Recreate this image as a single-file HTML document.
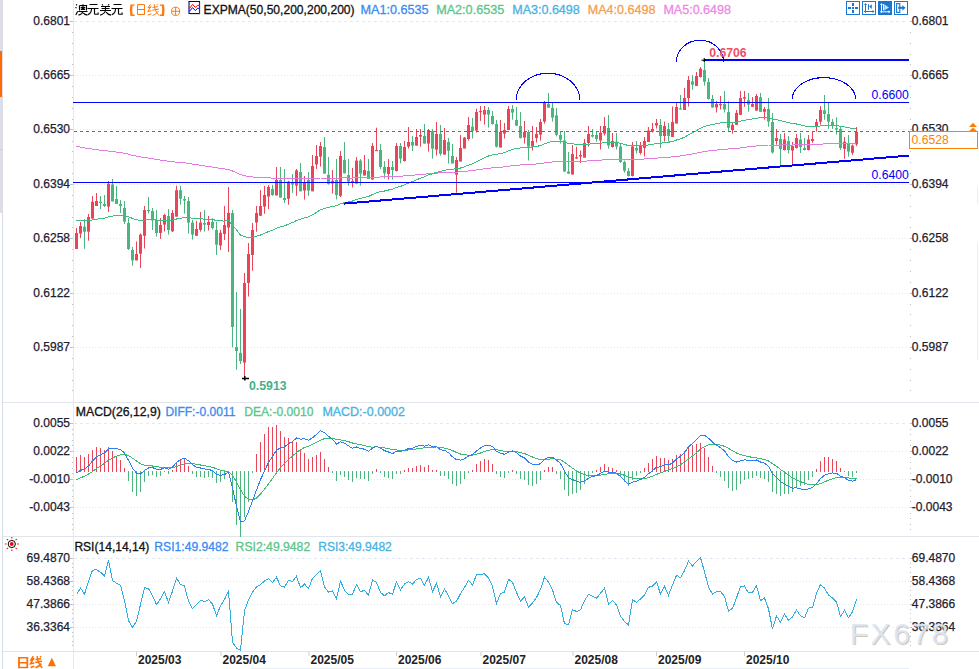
<!DOCTYPE html>
<html><head><meta charset="utf-8"><title>chart</title>
<style>html,body{margin:0;padding:0;background:#fff;overflow:hidden}svg{display:block}</style>
</head><body>
<svg width="979" height="669" viewBox="0 0 979 669">
<rect x="0" y="0" width="979" height="669" fill="#fff"/>
<rect x="0" y="0" width="3" height="213" fill="#dcdde6"/>
<rect x="0" y="149" width="3" height="1" fill="#cdcfd9"/>
<rect x="0" y="51" width="2" height="46" fill="#ff6a00"/>
<rect x="2" y="213" width="1" height="456" fill="#d6dde6"/>
<rect x="73" y="0" width="1" height="669" fill="#e4e9ef"/>
<rect x="3" y="402" width="976" height="1" fill="#dfe5eb"/>
<rect x="3" y="536" width="976" height="1" fill="#dfe5eb"/>
<rect x="3" y="651" width="976" height="1" fill="#dfe5eb"/>
<rect x="251" y="668" width="658" height="1" fill="#e8eef3"/>
<rect x="977" y="187" width="1" height="17" fill="#e9eef3"/>
<rect x="977" y="243" width="1" height="117" fill="#e9eef3"/>
<line x1="74" y1="21.5" x2="909" y2="21.5" stroke="#e3e9f0" stroke-width="1" stroke-dasharray="3 3"/>
<line x1="74" y1="75.5" x2="909" y2="75.5" stroke="#e3e9f0" stroke-width="1" stroke-dasharray="1 2"/>
<line x1="74" y1="129.5" x2="909" y2="129.5" stroke="#e3e9f0" stroke-width="1" stroke-dasharray="1 2"/>
<line x1="74" y1="184.5" x2="909" y2="184.5" stroke="#e3e9f0" stroke-width="1" stroke-dasharray="1 2"/>
<line x1="74" y1="238.5" x2="909" y2="238.5" stroke="#e3e9f0" stroke-width="1" stroke-dasharray="1 2"/>
<line x1="74" y1="293.5" x2="909" y2="293.5" stroke="#e3e9f0" stroke-width="1" stroke-dasharray="1 2"/>
<line x1="74" y1="347.5" x2="909" y2="347.5" stroke="#e3e9f0" stroke-width="1" stroke-dasharray="1 2"/>
<line x1="74" y1="423.5" x2="909" y2="423.5" stroke="#e3e9f0" stroke-width="1" stroke-dasharray="3 3"/>
<line x1="74" y1="451.5" x2="909" y2="451.5" stroke="#e3e9f0" stroke-width="1" stroke-dasharray="1 2"/>
<line x1="74" y1="479.5" x2="909" y2="479.5" stroke="#e3e9f0" stroke-width="1" stroke-dasharray="1 2"/>
<line x1="74" y1="507.5" x2="909" y2="507.5" stroke="#e3e9f0" stroke-width="1" stroke-dasharray="1 2"/>
<line x1="74" y1="558.5" x2="909" y2="558.5" stroke="#e3e9f0" stroke-width="1" stroke-dasharray="3 3"/>
<line x1="74" y1="581.5" x2="909" y2="581.5" stroke="#e3e9f0" stroke-width="1" stroke-dasharray="1 2"/>
<line x1="74" y1="604.5" x2="909" y2="604.5" stroke="#e3e9f0" stroke-width="1" stroke-dasharray="1 2"/>
<line x1="74" y1="627.5" x2="909" y2="627.5" stroke="#e3e9f0" stroke-width="1" stroke-dasharray="1 2"/>
<rect x="70" y="21" width="3" height="1" fill="#b8c0ca"/>
<rect x="910" y="21" width="2" height="1" fill="#b8c0ca"/>
<rect x="70" y="75" width="3" height="1" fill="#b8c0ca"/>
<rect x="910" y="75" width="2" height="1" fill="#b8c0ca"/>
<rect x="70" y="129" width="3" height="1" fill="#b8c0ca"/>
<rect x="910" y="129" width="2" height="1" fill="#b8c0ca"/>
<rect x="70" y="184" width="3" height="1" fill="#b8c0ca"/>
<rect x="910" y="184" width="2" height="1" fill="#b8c0ca"/>
<rect x="70" y="238" width="3" height="1" fill="#b8c0ca"/>
<rect x="910" y="238" width="2" height="1" fill="#b8c0ca"/>
<rect x="70" y="293" width="3" height="1" fill="#b8c0ca"/>
<rect x="910" y="293" width="2" height="1" fill="#b8c0ca"/>
<rect x="70" y="347" width="3" height="1" fill="#b8c0ca"/>
<rect x="910" y="347" width="2" height="1" fill="#b8c0ca"/>
<rect x="72" y="32" width="1" height="1" fill="#b8c0ca"/>
<rect x="910" y="32" width="1" height="1" fill="#b8c0ca"/>
<rect x="72" y="43" width="1" height="1" fill="#b8c0ca"/>
<rect x="910" y="43" width="1" height="1" fill="#b8c0ca"/>
<rect x="72" y="54" width="1" height="1" fill="#b8c0ca"/>
<rect x="910" y="54" width="1" height="1" fill="#b8c0ca"/>
<rect x="72" y="64" width="1" height="1" fill="#b8c0ca"/>
<rect x="910" y="64" width="1" height="1" fill="#b8c0ca"/>
<rect x="72" y="86" width="1" height="1" fill="#b8c0ca"/>
<rect x="910" y="86" width="1" height="1" fill="#b8c0ca"/>
<rect x="72" y="97" width="1" height="1" fill="#b8c0ca"/>
<rect x="910" y="97" width="1" height="1" fill="#b8c0ca"/>
<rect x="72" y="108" width="1" height="1" fill="#b8c0ca"/>
<rect x="910" y="108" width="1" height="1" fill="#b8c0ca"/>
<rect x="72" y="119" width="1" height="1" fill="#b8c0ca"/>
<rect x="910" y="119" width="1" height="1" fill="#b8c0ca"/>
<rect x="72" y="141" width="1" height="1" fill="#b8c0ca"/>
<rect x="910" y="141" width="1" height="1" fill="#b8c0ca"/>
<rect x="72" y="151" width="1" height="1" fill="#b8c0ca"/>
<rect x="910" y="151" width="1" height="1" fill="#b8c0ca"/>
<rect x="72" y="162" width="1" height="1" fill="#b8c0ca"/>
<rect x="910" y="162" width="1" height="1" fill="#b8c0ca"/>
<rect x="72" y="173" width="1" height="1" fill="#b8c0ca"/>
<rect x="910" y="173" width="1" height="1" fill="#b8c0ca"/>
<rect x="72" y="195" width="1" height="1" fill="#b8c0ca"/>
<rect x="910" y="195" width="1" height="1" fill="#b8c0ca"/>
<rect x="72" y="206" width="1" height="1" fill="#b8c0ca"/>
<rect x="910" y="206" width="1" height="1" fill="#b8c0ca"/>
<rect x="72" y="217" width="1" height="1" fill="#b8c0ca"/>
<rect x="910" y="217" width="1" height="1" fill="#b8c0ca"/>
<rect x="72" y="227" width="1" height="1" fill="#b8c0ca"/>
<rect x="910" y="227" width="1" height="1" fill="#b8c0ca"/>
<rect x="72" y="249" width="1" height="1" fill="#b8c0ca"/>
<rect x="910" y="249" width="1" height="1" fill="#b8c0ca"/>
<rect x="72" y="260" width="1" height="1" fill="#b8c0ca"/>
<rect x="910" y="260" width="1" height="1" fill="#b8c0ca"/>
<rect x="72" y="271" width="1" height="1" fill="#b8c0ca"/>
<rect x="910" y="271" width="1" height="1" fill="#b8c0ca"/>
<rect x="72" y="282" width="1" height="1" fill="#b8c0ca"/>
<rect x="910" y="282" width="1" height="1" fill="#b8c0ca"/>
<rect x="72" y="304" width="1" height="1" fill="#b8c0ca"/>
<rect x="910" y="304" width="1" height="1" fill="#b8c0ca"/>
<rect x="72" y="314" width="1" height="1" fill="#b8c0ca"/>
<rect x="910" y="314" width="1" height="1" fill="#b8c0ca"/>
<rect x="72" y="325" width="1" height="1" fill="#b8c0ca"/>
<rect x="910" y="325" width="1" height="1" fill="#b8c0ca"/>
<rect x="72" y="336" width="1" height="1" fill="#b8c0ca"/>
<rect x="910" y="336" width="1" height="1" fill="#b8c0ca"/>
<rect x="72" y="358" width="1" height="1" fill="#b8c0ca"/>
<rect x="910" y="358" width="1" height="1" fill="#b8c0ca"/>
<rect x="72" y="369" width="1" height="1" fill="#b8c0ca"/>
<rect x="910" y="369" width="1" height="1" fill="#b8c0ca"/>
<rect x="72" y="380" width="1" height="1" fill="#b8c0ca"/>
<rect x="910" y="380" width="1" height="1" fill="#b8c0ca"/>
<rect x="72" y="390" width="1" height="1" fill="#b8c0ca"/>
<rect x="910" y="390" width="1" height="1" fill="#b8c0ca"/>
<rect x="70" y="423" width="3" height="1" fill="#b8c0ca"/>
<rect x="910" y="423" width="2" height="1" fill="#b8c0ca"/>
<rect x="70" y="451" width="3" height="1" fill="#b8c0ca"/>
<rect x="910" y="451" width="2" height="1" fill="#b8c0ca"/>
<rect x="70" y="479" width="3" height="1" fill="#b8c0ca"/>
<rect x="910" y="479" width="2" height="1" fill="#b8c0ca"/>
<rect x="70" y="507" width="3" height="1" fill="#b8c0ca"/>
<rect x="910" y="507" width="2" height="1" fill="#b8c0ca"/>
<rect x="72" y="429" width="1" height="1" fill="#b8c0ca"/>
<rect x="910" y="429" width="1" height="1" fill="#b8c0ca"/>
<rect x="72" y="434" width="1" height="1" fill="#b8c0ca"/>
<rect x="910" y="434" width="1" height="1" fill="#b8c0ca"/>
<rect x="72" y="440" width="1" height="1" fill="#b8c0ca"/>
<rect x="910" y="440" width="1" height="1" fill="#b8c0ca"/>
<rect x="72" y="445" width="1" height="1" fill="#b8c0ca"/>
<rect x="910" y="445" width="1" height="1" fill="#b8c0ca"/>
<rect x="72" y="457" width="1" height="1" fill="#b8c0ca"/>
<rect x="910" y="457" width="1" height="1" fill="#b8c0ca"/>
<rect x="72" y="462" width="1" height="1" fill="#b8c0ca"/>
<rect x="910" y="462" width="1" height="1" fill="#b8c0ca"/>
<rect x="72" y="468" width="1" height="1" fill="#b8c0ca"/>
<rect x="910" y="468" width="1" height="1" fill="#b8c0ca"/>
<rect x="72" y="473" width="1" height="1" fill="#b8c0ca"/>
<rect x="910" y="473" width="1" height="1" fill="#b8c0ca"/>
<rect x="72" y="485" width="1" height="1" fill="#b8c0ca"/>
<rect x="910" y="485" width="1" height="1" fill="#b8c0ca"/>
<rect x="72" y="490" width="1" height="1" fill="#b8c0ca"/>
<rect x="910" y="490" width="1" height="1" fill="#b8c0ca"/>
<rect x="72" y="496" width="1" height="1" fill="#b8c0ca"/>
<rect x="910" y="496" width="1" height="1" fill="#b8c0ca"/>
<rect x="72" y="501" width="1" height="1" fill="#b8c0ca"/>
<rect x="910" y="501" width="1" height="1" fill="#b8c0ca"/>
<rect x="72" y="513" width="1" height="1" fill="#b8c0ca"/>
<rect x="910" y="513" width="1" height="1" fill="#b8c0ca"/>
<rect x="72" y="518" width="1" height="1" fill="#b8c0ca"/>
<rect x="910" y="518" width="1" height="1" fill="#b8c0ca"/>
<rect x="72" y="524" width="1" height="1" fill="#b8c0ca"/>
<rect x="910" y="524" width="1" height="1" fill="#b8c0ca"/>
<rect x="72" y="529" width="1" height="1" fill="#b8c0ca"/>
<rect x="910" y="529" width="1" height="1" fill="#b8c0ca"/>
<rect x="70" y="558" width="3" height="1" fill="#b8c0ca"/>
<rect x="910" y="558" width="2" height="1" fill="#b8c0ca"/>
<rect x="70" y="581" width="3" height="1" fill="#b8c0ca"/>
<rect x="910" y="581" width="2" height="1" fill="#b8c0ca"/>
<rect x="70" y="604" width="3" height="1" fill="#b8c0ca"/>
<rect x="910" y="604" width="2" height="1" fill="#b8c0ca"/>
<rect x="70" y="627" width="3" height="1" fill="#b8c0ca"/>
<rect x="910" y="627" width="2" height="1" fill="#b8c0ca"/>
<rect x="72" y="563" width="1" height="1" fill="#b8c0ca"/>
<rect x="910" y="563" width="1" height="1" fill="#b8c0ca"/>
<rect x="72" y="567" width="1" height="1" fill="#b8c0ca"/>
<rect x="910" y="567" width="1" height="1" fill="#b8c0ca"/>
<rect x="72" y="572" width="1" height="1" fill="#b8c0ca"/>
<rect x="910" y="572" width="1" height="1" fill="#b8c0ca"/>
<rect x="72" y="576" width="1" height="1" fill="#b8c0ca"/>
<rect x="910" y="576" width="1" height="1" fill="#b8c0ca"/>
<rect x="72" y="586" width="1" height="1" fill="#b8c0ca"/>
<rect x="910" y="586" width="1" height="1" fill="#b8c0ca"/>
<rect x="72" y="590" width="1" height="1" fill="#b8c0ca"/>
<rect x="910" y="590" width="1" height="1" fill="#b8c0ca"/>
<rect x="72" y="595" width="1" height="1" fill="#b8c0ca"/>
<rect x="910" y="595" width="1" height="1" fill="#b8c0ca"/>
<rect x="72" y="599" width="1" height="1" fill="#b8c0ca"/>
<rect x="910" y="599" width="1" height="1" fill="#b8c0ca"/>
<rect x="72" y="609" width="1" height="1" fill="#b8c0ca"/>
<rect x="910" y="609" width="1" height="1" fill="#b8c0ca"/>
<rect x="72" y="613" width="1" height="1" fill="#b8c0ca"/>
<rect x="910" y="613" width="1" height="1" fill="#b8c0ca"/>
<rect x="72" y="618" width="1" height="1" fill="#b8c0ca"/>
<rect x="910" y="618" width="1" height="1" fill="#b8c0ca"/>
<rect x="72" y="622" width="1" height="1" fill="#b8c0ca"/>
<rect x="910" y="622" width="1" height="1" fill="#b8c0ca"/>
<rect x="72" y="632" width="1" height="1" fill="#b8c0ca"/>
<rect x="910" y="632" width="1" height="1" fill="#b8c0ca"/>
<rect x="72" y="636" width="1" height="1" fill="#b8c0ca"/>
<rect x="910" y="636" width="1" height="1" fill="#b8c0ca"/>
<rect x="72" y="641" width="1" height="1" fill="#b8c0ca"/>
<rect x="910" y="641" width="1" height="1" fill="#b8c0ca"/>
<rect x="72" y="645" width="1" height="1" fill="#b8c0ca"/>
<rect x="910" y="645" width="1" height="1" fill="#b8c0ca"/>
<text x="70" y="25.2" font-family="Liberation Sans, sans-serif" font-size="12" fill="#1e2030" text-anchor="end" font-weight="normal" stroke="#1e2030" stroke-width="0.25">0.6801</text>
<text x="911.8" y="25.2" font-family="Liberation Sans, sans-serif" font-size="12" fill="#1e2030" text-anchor="start" font-weight="normal" stroke="#1e2030" stroke-width="0.25">0.6801</text>
<text x="70" y="79.2" font-family="Liberation Sans, sans-serif" font-size="12" fill="#1e2030" text-anchor="end" font-weight="normal" stroke="#1e2030" stroke-width="0.25">0.6665</text>
<text x="911.8" y="79.2" font-family="Liberation Sans, sans-serif" font-size="12" fill="#1e2030" text-anchor="start" font-weight="normal" stroke="#1e2030" stroke-width="0.25">0.6665</text>
<text x="70" y="133.2" font-family="Liberation Sans, sans-serif" font-size="12" fill="#1e2030" text-anchor="end" font-weight="normal" stroke="#1e2030" stroke-width="0.25">0.6530</text>
<text x="911.8" y="133.2" font-family="Liberation Sans, sans-serif" font-size="12" fill="#1e2030" text-anchor="start" font-weight="normal" stroke="#1e2030" stroke-width="0.25">0.6530</text>
<text x="70" y="188.2" font-family="Liberation Sans, sans-serif" font-size="12" fill="#1e2030" text-anchor="end" font-weight="normal" stroke="#1e2030" stroke-width="0.25">0.6394</text>
<text x="911.8" y="188.2" font-family="Liberation Sans, sans-serif" font-size="12" fill="#1e2030" text-anchor="start" font-weight="normal" stroke="#1e2030" stroke-width="0.25">0.6394</text>
<text x="70" y="242.2" font-family="Liberation Sans, sans-serif" font-size="12" fill="#1e2030" text-anchor="end" font-weight="normal" stroke="#1e2030" stroke-width="0.25">0.6258</text>
<text x="911.8" y="242.2" font-family="Liberation Sans, sans-serif" font-size="12" fill="#1e2030" text-anchor="start" font-weight="normal" stroke="#1e2030" stroke-width="0.25">0.6258</text>
<text x="70" y="297.2" font-family="Liberation Sans, sans-serif" font-size="12" fill="#1e2030" text-anchor="end" font-weight="normal" stroke="#1e2030" stroke-width="0.25">0.6122</text>
<text x="911.8" y="297.2" font-family="Liberation Sans, sans-serif" font-size="12" fill="#1e2030" text-anchor="start" font-weight="normal" stroke="#1e2030" stroke-width="0.25">0.6122</text>
<text x="70" y="351.2" font-family="Liberation Sans, sans-serif" font-size="12" fill="#1e2030" text-anchor="end" font-weight="normal" stroke="#1e2030" stroke-width="0.25">0.5987</text>
<text x="911.8" y="351.2" font-family="Liberation Sans, sans-serif" font-size="12" fill="#1e2030" text-anchor="start" font-weight="normal" stroke="#1e2030" stroke-width="0.25">0.5987</text>
<text x="70" y="427.2" font-family="Liberation Sans, sans-serif" font-size="12" fill="#1e2030" text-anchor="end" font-weight="normal" stroke="#1e2030" stroke-width="0.25">0.0055</text>
<text x="911.8" y="427.2" font-family="Liberation Sans, sans-serif" font-size="12" fill="#1e2030" text-anchor="start" font-weight="normal" stroke="#1e2030" stroke-width="0.25">0.0055</text>
<text x="70" y="455.2" font-family="Liberation Sans, sans-serif" font-size="12" fill="#1e2030" text-anchor="end" font-weight="normal" stroke="#1e2030" stroke-width="0.25">0.0022</text>
<text x="911.8" y="455.2" font-family="Liberation Sans, sans-serif" font-size="12" fill="#1e2030" text-anchor="start" font-weight="normal" stroke="#1e2030" stroke-width="0.25">0.0022</text>
<text x="70" y="483.2" font-family="Liberation Sans, sans-serif" font-size="12" fill="#1e2030" text-anchor="end" font-weight="normal" stroke="#1e2030" stroke-width="0.25">-0.0010</text>
<text x="911.8" y="483.2" font-family="Liberation Sans, sans-serif" font-size="12" fill="#1e2030" text-anchor="start" font-weight="normal" stroke="#1e2030" stroke-width="0.25">-0.0010</text>
<text x="70" y="511.2" font-family="Liberation Sans, sans-serif" font-size="12" fill="#1e2030" text-anchor="end" font-weight="normal" stroke="#1e2030" stroke-width="0.25">-0.0043</text>
<text x="911.8" y="511.2" font-family="Liberation Sans, sans-serif" font-size="12" fill="#1e2030" text-anchor="start" font-weight="normal" stroke="#1e2030" stroke-width="0.25">-0.0043</text>
<text x="70" y="562.2" font-family="Liberation Sans, sans-serif" font-size="12" fill="#1e2030" text-anchor="end" font-weight="normal" stroke="#1e2030" stroke-width="0.25">69.4870</text>
<text x="911.8" y="562.2" font-family="Liberation Sans, sans-serif" font-size="12" fill="#1e2030" text-anchor="start" font-weight="normal" stroke="#1e2030" stroke-width="0.25">69.4870</text>
<text x="70" y="585.2" font-family="Liberation Sans, sans-serif" font-size="12" fill="#1e2030" text-anchor="end" font-weight="normal" stroke="#1e2030" stroke-width="0.25">58.4368</text>
<text x="911.8" y="585.2" font-family="Liberation Sans, sans-serif" font-size="12" fill="#1e2030" text-anchor="start" font-weight="normal" stroke="#1e2030" stroke-width="0.25">58.4368</text>
<text x="70" y="608.2" font-family="Liberation Sans, sans-serif" font-size="12" fill="#1e2030" text-anchor="end" font-weight="normal" stroke="#1e2030" stroke-width="0.25">47.3866</text>
<text x="911.8" y="608.2" font-family="Liberation Sans, sans-serif" font-size="12" fill="#1e2030" text-anchor="start" font-weight="normal" stroke="#1e2030" stroke-width="0.25">47.3866</text>
<text x="70" y="631.2" font-family="Liberation Sans, sans-serif" font-size="12" fill="#1e2030" text-anchor="end" font-weight="normal" stroke="#1e2030" stroke-width="0.25">36.3364</text>
<text x="911.8" y="631.2" font-family="Liberation Sans, sans-serif" font-size="12" fill="#1e2030" text-anchor="start" font-weight="normal" stroke="#1e2030" stroke-width="0.25">36.3364</text>
<rect x="76" y="228.0" width="1" height="21.0" fill="#e94558"/>
<rect x="75" y="233.0" width="3" height="16.0" fill="#e94558"/>
<rect x="80" y="222.0" width="1" height="16.0" fill="#e94558"/>
<rect x="79" y="226.0" width="3" height="7.5" fill="#e94558"/>
<rect x="84" y="219.0" width="1" height="29.8" fill="#4cb47f"/>
<rect x="83" y="226.8" width="3" height="4.9" fill="#4cb47f"/>
<rect x="88" y="214.0" width="1" height="26.7" fill="#e94558"/>
<rect x="87" y="217.0" width="3" height="14.6" fill="#e94558"/>
<rect x="92" y="196.0" width="1" height="22.6" fill="#e94558"/>
<rect x="91" y="201.8" width="3" height="16.8" fill="#e94558"/>
<rect x="96" y="193.0" width="1" height="13.0" fill="#e94558"/>
<rect x="95" y="201.0" width="3" height="5.0" fill="#e94558"/>
<rect x="100" y="196.0" width="1" height="13.0" fill="#4cb47f"/>
<rect x="99" y="201.7" width="3" height="1.3" fill="#4cb47f"/>
<rect x="104" y="195.0" width="1" height="12.0" fill="#4cb47f"/>
<rect x="103" y="204.0" width="3" height="2.0" fill="#4cb47f"/>
<rect x="108" y="181.0" width="1" height="31.0" fill="#e94558"/>
<rect x="107" y="183.8" width="3" height="22.8" fill="#e94558"/>
<rect x="112" y="179.0" width="1" height="22.4" fill="#4cb47f"/>
<rect x="111" y="184.5" width="3" height="16.9" fill="#4cb47f"/>
<rect x="116" y="186.0" width="1" height="18.0" fill="#4cb47f"/>
<rect x="115" y="199.0" width="3" height="5.0" fill="#4cb47f"/>
<rect x="120" y="200.0" width="1" height="13.0" fill="#4cb47f"/>
<rect x="119" y="204.0" width="3" height="2.0" fill="#4cb47f"/>
<rect x="124" y="201.0" width="1" height="23.0" fill="#4cb47f"/>
<rect x="123" y="208.0" width="3" height="13.6" fill="#4cb47f"/>
<rect x="128" y="218.0" width="1" height="32.0" fill="#4cb47f"/>
<rect x="127" y="223.0" width="3" height="26.0" fill="#4cb47f"/>
<rect x="132" y="247.0" width="1" height="18.7" fill="#4cb47f"/>
<rect x="131" y="250.0" width="3" height="10.4" fill="#4cb47f"/>
<rect x="136" y="241.5" width="1" height="18.9" fill="#e94558"/>
<rect x="135" y="254.0" width="3" height="6.4" fill="#e94558"/>
<rect x="140" y="233.5" width="1" height="34.5" fill="#e94558"/>
<rect x="139" y="234.6" width="3" height="19.1" fill="#e94558"/>
<rect x="144" y="206.0" width="1" height="42.5" fill="#e94558"/>
<rect x="143" y="210.0" width="3" height="25.8" fill="#e94558"/>
<rect x="148" y="197.0" width="1" height="16.6" fill="#4cb47f"/>
<rect x="147" y="210.0" width="3" height="1.2" fill="#4cb47f"/>
<rect x="152" y="208.0" width="1" height="22.0" fill="#4cb47f"/>
<rect x="151" y="211.0" width="3" height="9.5" fill="#4cb47f"/>
<rect x="156" y="210.0" width="1" height="26.5" fill="#4cb47f"/>
<rect x="155" y="220.0" width="3" height="13.0" fill="#4cb47f"/>
<rect x="160" y="218.0" width="1" height="20.8" fill="#e94558"/>
<rect x="159" y="225.0" width="3" height="8.0" fill="#e94558"/>
<rect x="164" y="213.6" width="1" height="18.0" fill="#e94558"/>
<rect x="163" y="215.0" width="3" height="9.6" fill="#e94558"/>
<rect x="168" y="209.0" width="1" height="25.6" fill="#4cb47f"/>
<rect x="167" y="216.0" width="3" height="14.0" fill="#4cb47f"/>
<rect x="172" y="210.0" width="1" height="22.0" fill="#e94558"/>
<rect x="171" y="213.0" width="3" height="18.3" fill="#e94558"/>
<rect x="176" y="185.7" width="1" height="30.9" fill="#e94558"/>
<rect x="175" y="190.2" width="3" height="26.4" fill="#e94558"/>
<rect x="180" y="185.7" width="1" height="19.0" fill="#4cb47f"/>
<rect x="179" y="190.2" width="3" height="8.5" fill="#4cb47f"/>
<rect x="184" y="196.0" width="1" height="17.6" fill="#4cb47f"/>
<rect x="183" y="199.0" width="3" height="1.6" fill="#4cb47f"/>
<rect x="188" y="197.0" width="1" height="36.5" fill="#4cb47f"/>
<rect x="187" y="201.0" width="3" height="21.6" fill="#4cb47f"/>
<rect x="192" y="220.0" width="1" height="19.5" fill="#4cb47f"/>
<rect x="191" y="222.6" width="3" height="12.0" fill="#4cb47f"/>
<rect x="196" y="220.8" width="1" height="15.0" fill="#e94558"/>
<rect x="195" y="229.0" width="3" height="6.8" fill="#e94558"/>
<rect x="200" y="212.0" width="1" height="19.6" fill="#e94558"/>
<rect x="199" y="222.6" width="3" height="7.2" fill="#e94558"/>
<rect x="204" y="210.0" width="1" height="21.6" fill="#4cb47f"/>
<rect x="203" y="223.0" width="3" height="1.6" fill="#4cb47f"/>
<rect x="208" y="216.0" width="1" height="14.5" fill="#e94558"/>
<rect x="207" y="222.0" width="3" height="3.0" fill="#e94558"/>
<rect x="212" y="218.0" width="1" height="11.5" fill="#4cb47f"/>
<rect x="211" y="222.0" width="3" height="6.0" fill="#4cb47f"/>
<rect x="216" y="222.0" width="1" height="33.0" fill="#4cb47f"/>
<rect x="215" y="230.0" width="3" height="14.7" fill="#4cb47f"/>
<rect x="220" y="229.8" width="1" height="20.2" fill="#e94558"/>
<rect x="219" y="232.8" width="3" height="12.7" fill="#e94558"/>
<rect x="224" y="205.9" width="1" height="34.1" fill="#e94558"/>
<rect x="223" y="225.0" width="3" height="9.0" fill="#e94558"/>
<rect x="228" y="187.0" width="1" height="65.0" fill="#e94558"/>
<rect x="227" y="213.0" width="3" height="14.5" fill="#e94558"/>
<rect x="232" y="210.0" width="1" height="137.4" fill="#4cb47f"/>
<rect x="231" y="213.0" width="3" height="114.0" fill="#4cb47f"/>
<rect x="236" y="292.0" width="1" height="77.8" fill="#4cb47f"/>
<rect x="235" y="347.0" width="3" height="4.0" fill="#4cb47f"/>
<rect x="240" y="309.0" width="1" height="55.0" fill="#4cb47f"/>
<rect x="239" y="352.9" width="3" height="8.1" fill="#4cb47f"/>
<rect x="244" y="273.0" width="1" height="105.0" fill="#e94558"/>
<rect x="243" y="283.0" width="3" height="79.6" fill="#e94558"/>
<rect x="248" y="243.0" width="1" height="53.5" fill="#e94558"/>
<rect x="247" y="254.0" width="3" height="29.0" fill="#e94558"/>
<rect x="252" y="223.0" width="1" height="47.7" fill="#e94558"/>
<rect x="251" y="230.0" width="3" height="25.0" fill="#e94558"/>
<rect x="256" y="206.0" width="1" height="25.7" fill="#e94558"/>
<rect x="255" y="213.0" width="3" height="9.5" fill="#e94558"/>
<rect x="260" y="190.0" width="1" height="25.8" fill="#e94558"/>
<rect x="259" y="206.0" width="3" height="9.8" fill="#e94558"/>
<rect x="264" y="186.0" width="1" height="27.7" fill="#e94558"/>
<rect x="263" y="195.0" width="3" height="11.6" fill="#e94558"/>
<rect x="268" y="185.0" width="1" height="24.0" fill="#e94558"/>
<rect x="267" y="187.0" width="3" height="9.5" fill="#e94558"/>
<rect x="272" y="185.0" width="1" height="10.8" fill="#4cb47f"/>
<rect x="271" y="189.0" width="3" height="6.0" fill="#4cb47f"/>
<rect x="276" y="167.0" width="1" height="28.4" fill="#e94558"/>
<rect x="275" y="180.0" width="3" height="15.4" fill="#e94558"/>
<rect x="280" y="167.0" width="1" height="30.6" fill="#4cb47f"/>
<rect x="279" y="180.0" width="3" height="17.6" fill="#4cb47f"/>
<rect x="284" y="169.0" width="1" height="34.0" fill="#4cb47f"/>
<rect x="283" y="198.0" width="3" height="2.0" fill="#4cb47f"/>
<rect x="288" y="180.8" width="1" height="23.9" fill="#e94558"/>
<rect x="287" y="181.6" width="3" height="17.2" fill="#e94558"/>
<rect x="292" y="174.0" width="1" height="18.8" fill="#4cb47f"/>
<rect x="291" y="183.0" width="3" height="1.6" fill="#4cb47f"/>
<rect x="296" y="169.0" width="1" height="26.8" fill="#e94558"/>
<rect x="295" y="170.4" width="3" height="15.2" fill="#e94558"/>
<rect x="300" y="163.0" width="1" height="28.3" fill="#4cb47f"/>
<rect x="299" y="172.0" width="3" height="19.3" fill="#4cb47f"/>
<rect x="304" y="176.0" width="1" height="23.5" fill="#e94558"/>
<rect x="303" y="182.3" width="3" height="8.2" fill="#e94558"/>
<rect x="308" y="172.0" width="1" height="23.8" fill="#4cb47f"/>
<rect x="307" y="180.0" width="3" height="10.5" fill="#4cb47f"/>
<rect x="312" y="155.0" width="1" height="36.3" fill="#e94558"/>
<rect x="311" y="166.0" width="3" height="25.3" fill="#e94558"/>
<rect x="316" y="145.0" width="1" height="24.0" fill="#e94558"/>
<rect x="315" y="156.0" width="3" height="8.4" fill="#e94558"/>
<rect x="320" y="142.0" width="1" height="24.6" fill="#e94558"/>
<rect x="319" y="146.0" width="3" height="10.6" fill="#e94558"/>
<rect x="324" y="137.0" width="1" height="36.6" fill="#4cb47f"/>
<rect x="323" y="147.0" width="3" height="26.6" fill="#4cb47f"/>
<rect x="328" y="157.0" width="1" height="27.6" fill="#4cb47f"/>
<rect x="327" y="174.8" width="3" height="9.0" fill="#4cb47f"/>
<rect x="332" y="170.0" width="1" height="23.5" fill="#e94558"/>
<rect x="331" y="180.8" width="3" height="2.7" fill="#e94558"/>
<rect x="336" y="159.0" width="1" height="40.5" fill="#4cb47f"/>
<rect x="335" y="180.0" width="3" height="15.0" fill="#4cb47f"/>
<rect x="340" y="151.0" width="1" height="46.0" fill="#e94558"/>
<rect x="339" y="156.0" width="3" height="39.8" fill="#e94558"/>
<rect x="344" y="142.0" width="1" height="31.3" fill="#4cb47f"/>
<rect x="343" y="160.0" width="3" height="13.3" fill="#4cb47f"/>
<rect x="348" y="159.0" width="1" height="26.6" fill="#4cb47f"/>
<rect x="347" y="175.0" width="3" height="6.6" fill="#4cb47f"/>
<rect x="352" y="168.0" width="1" height="19.5" fill="#e94558"/>
<rect x="351" y="181.0" width="3" height="1.3" fill="#e94558"/>
<rect x="356" y="157.0" width="1" height="26.5" fill="#e94558"/>
<rect x="355" y="160.6" width="3" height="22.9" fill="#e94558"/>
<rect x="360" y="159.0" width="1" height="26.6" fill="#4cb47f"/>
<rect x="359" y="160.6" width="3" height="13.0" fill="#4cb47f"/>
<rect x="364" y="155.0" width="1" height="20.5" fill="#e94558"/>
<rect x="363" y="170.0" width="3" height="5.5" fill="#e94558"/>
<rect x="368" y="159.0" width="1" height="20.0" fill="#4cb47f"/>
<rect x="367" y="171.0" width="3" height="8.0" fill="#4cb47f"/>
<rect x="372" y="143.0" width="1" height="36.5" fill="#e94558"/>
<rect x="371" y="146.0" width="3" height="33.5" fill="#e94558"/>
<rect x="376" y="127.7" width="1" height="23.1" fill="#e94558"/>
<rect x="375" y="150.0" width="3" height="1.2" fill="#e94558"/>
<rect x="380" y="144.0" width="1" height="25.0" fill="#4cb47f"/>
<rect x="379" y="150.0" width="3" height="17.0" fill="#4cb47f"/>
<rect x="384" y="161.0" width="1" height="17.5" fill="#4cb47f"/>
<rect x="383" y="167.0" width="3" height="6.2" fill="#4cb47f"/>
<rect x="388" y="159.0" width="1" height="20.5" fill="#e94558"/>
<rect x="387" y="167.0" width="3" height="7.0" fill="#e94558"/>
<rect x="392" y="161.0" width="1" height="18.5" fill="#4cb47f"/>
<rect x="391" y="167.0" width="3" height="3.0" fill="#4cb47f"/>
<rect x="396" y="143.0" width="1" height="28.5" fill="#e94558"/>
<rect x="395" y="146.0" width="3" height="25.0" fill="#e94558"/>
<rect x="400" y="143.0" width="1" height="20.5" fill="#4cb47f"/>
<rect x="399" y="146.0" width="3" height="12.6" fill="#4cb47f"/>
<rect x="404" y="141.0" width="1" height="20.6" fill="#e94558"/>
<rect x="403" y="147.0" width="3" height="14.0" fill="#e94558"/>
<rect x="408" y="127.0" width="1" height="21.6" fill="#e94558"/>
<rect x="407" y="142.0" width="3" height="4.6" fill="#e94558"/>
<rect x="412" y="136.0" width="1" height="15.0" fill="#4cb47f"/>
<rect x="411" y="142.0" width="3" height="3.6" fill="#4cb47f"/>
<rect x="416" y="129.0" width="1" height="16.6" fill="#e94558"/>
<rect x="415" y="137.0" width="3" height="8.6" fill="#e94558"/>
<rect x="420" y="129.0" width="1" height="17.6" fill="#e94558"/>
<rect x="419" y="135.0" width="3" height="1.6" fill="#e94558"/>
<rect x="424" y="124.0" width="1" height="19.6" fill="#4cb47f"/>
<rect x="423" y="136.0" width="3" height="7.6" fill="#4cb47f"/>
<rect x="428" y="129.0" width="1" height="22.6" fill="#e94558"/>
<rect x="427" y="130.0" width="3" height="13.6" fill="#e94558"/>
<rect x="432" y="129.0" width="1" height="29.6" fill="#4cb47f"/>
<rect x="431" y="131.0" width="3" height="17.6" fill="#4cb47f"/>
<rect x="436" y="122.0" width="1" height="33.6" fill="#e94558"/>
<rect x="435" y="134.0" width="3" height="15.6" fill="#e94558"/>
<rect x="440" y="125.0" width="1" height="30.6" fill="#4cb47f"/>
<rect x="439" y="134.0" width="3" height="19.8" fill="#4cb47f"/>
<rect x="444" y="128.0" width="1" height="26.6" fill="#e94558"/>
<rect x="443" y="140.0" width="3" height="14.6" fill="#e94558"/>
<rect x="448" y="138.0" width="1" height="25.5" fill="#4cb47f"/>
<rect x="447" y="142.0" width="3" height="8.8" fill="#4cb47f"/>
<rect x="452" y="144.0" width="1" height="19.5" fill="#4cb47f"/>
<rect x="451" y="156.0" width="3" height="7.5" fill="#4cb47f"/>
<rect x="456" y="157.0" width="1" height="35.7" fill="#e94558"/>
<rect x="455" y="160.0" width="3" height="14.7" fill="#e94558"/>
<rect x="460" y="135.0" width="1" height="26.5" fill="#e94558"/>
<rect x="459" y="148.0" width="3" height="13.5" fill="#e94558"/>
<rect x="464" y="137.0" width="1" height="11.5" fill="#e94558"/>
<rect x="463" y="137.6" width="3" height="10.9" fill="#e94558"/>
<rect x="468" y="117.0" width="1" height="23.6" fill="#e94558"/>
<rect x="467" y="125.0" width="3" height="14.0" fill="#e94558"/>
<rect x="472" y="118.0" width="1" height="20.5" fill="#4cb47f"/>
<rect x="471" y="126.6" width="3" height="4.4" fill="#4cb47f"/>
<rect x="476" y="108.6" width="1" height="23.9" fill="#e94558"/>
<rect x="475" y="112.0" width="3" height="18.6" fill="#e94558"/>
<rect x="480" y="106.0" width="1" height="14.9" fill="#e94558"/>
<rect x="479" y="111.0" width="3" height="1.2" fill="#e94558"/>
<rect x="484" y="106.0" width="1" height="18.6" fill="#e94558"/>
<rect x="483" y="110.0" width="3" height="4.6" fill="#e94558"/>
<rect x="488" y="107.0" width="1" height="20.6" fill="#4cb47f"/>
<rect x="487" y="110.0" width="3" height="4.6" fill="#4cb47f"/>
<rect x="492" y="111.0" width="1" height="13.6" fill="#4cb47f"/>
<rect x="491" y="116.0" width="3" height="8.0" fill="#4cb47f"/>
<rect x="496" y="120.0" width="1" height="27.5" fill="#4cb47f"/>
<rect x="495" y="124.0" width="3" height="22.6" fill="#4cb47f"/>
<rect x="500" y="120.0" width="1" height="27.5" fill="#e94558"/>
<rect x="499" y="132.0" width="3" height="15.5" fill="#e94558"/>
<rect x="504" y="123.0" width="1" height="15.5" fill="#e94558"/>
<rect x="503" y="130.0" width="3" height="3.6" fill="#e94558"/>
<rect x="508" y="106.0" width="1" height="24.0" fill="#e94558"/>
<rect x="507" y="109.0" width="3" height="21.0" fill="#e94558"/>
<rect x="512" y="105.0" width="1" height="14.7" fill="#4cb47f"/>
<rect x="511" y="109.0" width="3" height="3.6" fill="#4cb47f"/>
<rect x="516" y="107.0" width="1" height="18.7" fill="#4cb47f"/>
<rect x="515" y="120.0" width="3" height="5.7" fill="#4cb47f"/>
<rect x="520" y="112.0" width="1" height="26.5" fill="#4cb47f"/>
<rect x="519" y="126.0" width="3" height="12.0" fill="#4cb47f"/>
<rect x="524" y="121.0" width="1" height="22.6" fill="#e94558"/>
<rect x="523" y="132.0" width="3" height="5.6" fill="#e94558"/>
<rect x="528" y="130.0" width="1" height="30.5" fill="#4cb47f"/>
<rect x="527" y="132.0" width="3" height="14.6" fill="#4cb47f"/>
<rect x="532" y="126.0" width="1" height="24.5" fill="#e94558"/>
<rect x="531" y="141.0" width="3" height="5.6" fill="#e94558"/>
<rect x="536" y="127.0" width="1" height="15.5" fill="#e94558"/>
<rect x="535" y="134.0" width="3" height="4.0" fill="#e94558"/>
<rect x="540" y="119.0" width="1" height="21.6" fill="#e94558"/>
<rect x="539" y="122.0" width="3" height="12.6" fill="#e94558"/>
<rect x="544" y="101.0" width="1" height="22.6" fill="#e94558"/>
<rect x="543" y="102.0" width="3" height="19.6" fill="#e94558"/>
<rect x="548" y="93.0" width="1" height="14.7" fill="#4cb47f"/>
<rect x="547" y="104.0" width="3" height="3.7" fill="#4cb47f"/>
<rect x="552" y="103.0" width="1" height="18.6" fill="#4cb47f"/>
<rect x="551" y="107.7" width="3" height="9.9" fill="#4cb47f"/>
<rect x="556" y="108.0" width="1" height="28.3" fill="#4cb47f"/>
<rect x="555" y="115.4" width="3" height="19.4" fill="#4cb47f"/>
<rect x="560" y="132.0" width="1" height="11.5" fill="#4cb47f"/>
<rect x="559" y="135.0" width="3" height="4.6" fill="#4cb47f"/>
<rect x="564" y="131.0" width="1" height="41.0" fill="#4cb47f"/>
<rect x="563" y="140.5" width="3" height="31.0" fill="#4cb47f"/>
<rect x="568" y="152.0" width="1" height="21.7" fill="#4cb47f"/>
<rect x="567" y="171.5" width="3" height="2.2" fill="#4cb47f"/>
<rect x="572" y="145.0" width="1" height="29.5" fill="#e94558"/>
<rect x="571" y="154.0" width="3" height="20.5" fill="#e94558"/>
<rect x="576" y="146.8" width="1" height="12.2" fill="#e94558"/>
<rect x="575" y="157.3" width="3" height="1.2" fill="#e94558"/>
<rect x="580" y="150.5" width="1" height="12.5" fill="#e94558"/>
<rect x="579" y="155.0" width="3" height="1.5" fill="#e94558"/>
<rect x="584" y="139.0" width="1" height="18.6" fill="#e94558"/>
<rect x="583" y="143.0" width="3" height="14.6" fill="#e94558"/>
<rect x="588" y="126.0" width="1" height="20.5" fill="#e94558"/>
<rect x="587" y="134.0" width="3" height="9.0" fill="#e94558"/>
<rect x="592" y="129.0" width="1" height="8.5" fill="#4cb47f"/>
<rect x="591" y="135.0" width="3" height="1.6" fill="#4cb47f"/>
<rect x="596" y="131.5" width="1" height="10.1" fill="#4cb47f"/>
<rect x="595" y="135.0" width="3" height="4.0" fill="#4cb47f"/>
<rect x="600" y="126.0" width="1" height="23.5" fill="#e94558"/>
<rect x="599" y="132.6" width="3" height="7.9" fill="#e94558"/>
<rect x="604" y="117.0" width="1" height="18.6" fill="#e94558"/>
<rect x="603" y="126.0" width="3" height="7.6" fill="#e94558"/>
<rect x="608" y="115.0" width="1" height="33.6" fill="#4cb47f"/>
<rect x="607" y="128.0" width="3" height="17.6" fill="#4cb47f"/>
<rect x="612" y="133.0" width="1" height="14.5" fill="#e94558"/>
<rect x="611" y="141.0" width="3" height="6.0" fill="#e94558"/>
<rect x="616" y="133.0" width="1" height="16.5" fill="#4cb47f"/>
<rect x="615" y="141.6" width="3" height="4.9" fill="#4cb47f"/>
<rect x="620" y="143.0" width="1" height="20.0" fill="#4cb47f"/>
<rect x="619" y="146.5" width="3" height="15.5" fill="#4cb47f"/>
<rect x="624" y="160.6" width="1" height="11.9" fill="#4cb47f"/>
<rect x="623" y="162.0" width="3" height="8.7" fill="#4cb47f"/>
<rect x="628" y="168.0" width="1" height="8.4" fill="#4cb47f"/>
<rect x="627" y="171.0" width="3" height="5.0" fill="#4cb47f"/>
<rect x="632" y="142.0" width="1" height="34.4" fill="#e94558"/>
<rect x="631" y="146.5" width="3" height="29.5" fill="#e94558"/>
<rect x="636" y="141.0" width="1" height="12.5" fill="#4cb47f"/>
<rect x="635" y="148.0" width="3" height="2.5" fill="#4cb47f"/>
<rect x="640" y="142.0" width="1" height="12.6" fill="#e94558"/>
<rect x="639" y="146.0" width="3" height="7.0" fill="#e94558"/>
<rect x="644" y="137.0" width="1" height="19.5" fill="#e94558"/>
<rect x="643" y="141.0" width="3" height="7.0" fill="#e94558"/>
<rect x="648" y="127.0" width="1" height="15.0" fill="#e94558"/>
<rect x="647" y="130.6" width="3" height="11.4" fill="#e94558"/>
<rect x="652" y="123.0" width="1" height="9.5" fill="#e94558"/>
<rect x="651" y="129.0" width="3" height="2.5" fill="#e94558"/>
<rect x="656" y="119.0" width="1" height="9.5" fill="#e94558"/>
<rect x="655" y="123.0" width="3" height="2.5" fill="#e94558"/>
<rect x="660" y="119.0" width="1" height="29.0" fill="#4cb47f"/>
<rect x="659" y="125.0" width="3" height="11.0" fill="#4cb47f"/>
<rect x="664" y="121.5" width="1" height="20.0" fill="#e94558"/>
<rect x="663" y="126.0" width="3" height="10.0" fill="#e94558"/>
<rect x="668" y="123.0" width="1" height="18.5" fill="#4cb47f"/>
<rect x="667" y="129.0" width="3" height="7.0" fill="#4cb47f"/>
<rect x="672" y="106.5" width="1" height="30.5" fill="#e94558"/>
<rect x="671" y="122.0" width="3" height="15.0" fill="#e94558"/>
<rect x="676" y="102.6" width="1" height="20.9" fill="#e94558"/>
<rect x="675" y="107.0" width="3" height="16.5" fill="#e94558"/>
<rect x="680" y="95.0" width="1" height="14.5" fill="#4cb47f"/>
<rect x="679" y="108.3" width="3" height="1.2" fill="#4cb47f"/>
<rect x="684" y="88.0" width="1" height="22.0" fill="#e94558"/>
<rect x="683" y="98.0" width="3" height="12.0" fill="#e94558"/>
<rect x="688" y="76.0" width="1" height="30.5" fill="#e94558"/>
<rect x="687" y="80.0" width="3" height="18.0" fill="#e94558"/>
<rect x="692" y="75.0" width="1" height="14.6" fill="#4cb47f"/>
<rect x="691" y="81.4" width="3" height="3.3" fill="#4cb47f"/>
<rect x="696" y="72.0" width="1" height="14.0" fill="#e94558"/>
<rect x="695" y="76.0" width="3" height="10.0" fill="#e94558"/>
<rect x="700" y="67.0" width="1" height="10.6" fill="#e94558"/>
<rect x="699" y="68.7" width="3" height="8.3" fill="#e94558"/>
<rect x="704" y="60.0" width="1" height="25.6" fill="#4cb47f"/>
<rect x="703" y="70.0" width="3" height="11.7" fill="#4cb47f"/>
<rect x="708" y="78.0" width="1" height="21.6" fill="#4cb47f"/>
<rect x="707" y="82.0" width="3" height="17.0" fill="#4cb47f"/>
<rect x="712" y="95.0" width="1" height="12.5" fill="#4cb47f"/>
<rect x="711" y="99.0" width="3" height="8.5" fill="#4cb47f"/>
<rect x="716" y="101.0" width="1" height="11.5" fill="#e94558"/>
<rect x="715" y="104.0" width="3" height="3.5" fill="#e94558"/>
<rect x="720" y="96.0" width="1" height="13.5" fill="#e94558"/>
<rect x="719" y="104.0" width="3" height="1.2" fill="#e94558"/>
<rect x="724" y="91.0" width="1" height="21.5" fill="#4cb47f"/>
<rect x="723" y="104.0" width="3" height="5.5" fill="#4cb47f"/>
<rect x="728" y="101.3" width="1" height="30.2" fill="#4cb47f"/>
<rect x="727" y="112.0" width="3" height="15.8" fill="#4cb47f"/>
<rect x="732" y="123.0" width="1" height="10.7" fill="#e94558"/>
<rect x="731" y="124.8" width="3" height="5.2" fill="#e94558"/>
<rect x="736" y="110.0" width="1" height="14.8" fill="#e94558"/>
<rect x="735" y="112.9" width="3" height="11.9" fill="#e94558"/>
<rect x="740" y="91.0" width="1" height="23.8" fill="#e94558"/>
<rect x="739" y="98.0" width="3" height="16.8" fill="#e94558"/>
<rect x="744" y="91.0" width="1" height="15.8" fill="#e94558"/>
<rect x="743" y="97.2" width="3" height="1.5" fill="#e94558"/>
<rect x="748" y="93.0" width="1" height="18.8" fill="#4cb47f"/>
<rect x="747" y="100.2" width="3" height="4.5" fill="#4cb47f"/>
<rect x="752" y="97.0" width="1" height="9.8" fill="#e94558"/>
<rect x="751" y="104.0" width="3" height="2.8" fill="#e94558"/>
<rect x="756" y="94.0" width="1" height="16.6" fill="#e94558"/>
<rect x="755" y="96.0" width="3" height="14.6" fill="#e94558"/>
<rect x="760" y="93.0" width="1" height="18.8" fill="#4cb47f"/>
<rect x="759" y="97.2" width="3" height="14.6" fill="#4cb47f"/>
<rect x="764" y="107.0" width="1" height="12.6" fill="#e94558"/>
<rect x="763" y="109.0" width="3" height="2.8" fill="#e94558"/>
<rect x="768" y="98.0" width="1" height="28.7" fill="#4cb47f"/>
<rect x="767" y="109.0" width="3" height="12.5" fill="#4cb47f"/>
<rect x="772" y="113.0" width="1" height="40.5" fill="#4cb47f"/>
<rect x="771" y="122.0" width="3" height="30.5" fill="#4cb47f"/>
<rect x="776" y="129.0" width="1" height="15.6" fill="#e94558"/>
<rect x="775" y="138.0" width="3" height="3.0" fill="#e94558"/>
<rect x="780" y="134.0" width="1" height="31.0" fill="#4cb47f"/>
<rect x="779" y="139.0" width="3" height="10.0" fill="#4cb47f"/>
<rect x="784" y="133.0" width="1" height="17.5" fill="#e94558"/>
<rect x="783" y="139.5" width="3" height="10.5" fill="#e94558"/>
<rect x="788" y="136.0" width="1" height="17.5" fill="#4cb47f"/>
<rect x="787" y="141.0" width="3" height="9.0" fill="#4cb47f"/>
<rect x="792" y="142.0" width="1" height="22.5" fill="#e94558"/>
<rect x="791" y="146.0" width="3" height="4.5" fill="#e94558"/>
<rect x="796" y="134.0" width="1" height="14.5" fill="#e94558"/>
<rect x="795" y="138.0" width="3" height="10.0" fill="#e94558"/>
<rect x="800" y="133.0" width="1" height="20.0" fill="#4cb47f"/>
<rect x="799" y="139.5" width="3" height="7.5" fill="#4cb47f"/>
<rect x="804" y="138.0" width="1" height="12.5" fill="#4cb47f"/>
<rect x="803" y="148.0" width="3" height="2.0" fill="#4cb47f"/>
<rect x="808" y="135.0" width="1" height="15.5" fill="#e94558"/>
<rect x="807" y="139.5" width="3" height="10.5" fill="#e94558"/>
<rect x="812" y="131.6" width="1" height="11.2" fill="#e94558"/>
<rect x="811" y="139.0" width="3" height="2.0" fill="#e94558"/>
<rect x="816" y="119.0" width="1" height="12.6" fill="#e94558"/>
<rect x="815" y="122.0" width="3" height="5.0" fill="#e94558"/>
<rect x="820" y="106.0" width="1" height="18.5" fill="#e94558"/>
<rect x="819" y="110.0" width="3" height="11.6" fill="#e94558"/>
<rect x="824" y="95.0" width="1" height="24.7" fill="#4cb47f"/>
<rect x="823" y="110.3" width="3" height="3.7" fill="#4cb47f"/>
<rect x="828" y="102.6" width="1" height="26.3" fill="#4cb47f"/>
<rect x="827" y="114.0" width="3" height="7.7" fill="#4cb47f"/>
<rect x="832" y="119.0" width="1" height="9.9" fill="#4cb47f"/>
<rect x="831" y="122.0" width="3" height="3.0" fill="#4cb47f"/>
<rect x="836" y="117.3" width="1" height="17.2" fill="#4cb47f"/>
<rect x="835" y="128.0" width="3" height="1.5" fill="#4cb47f"/>
<rect x="840" y="126.5" width="1" height="23.3" fill="#4cb47f"/>
<rect x="839" y="128.9" width="3" height="19.1" fill="#4cb47f"/>
<rect x="844" y="137.0" width="1" height="21.8" fill="#e94558"/>
<rect x="843" y="141.7" width="3" height="7.1" fill="#e94558"/>
<rect x="848" y="135.0" width="1" height="21.7" fill="#4cb47f"/>
<rect x="847" y="143.0" width="3" height="8.6" fill="#4cb47f"/>
<rect x="852" y="144.4" width="1" height="10.4" fill="#e94558"/>
<rect x="851" y="145.6" width="3" height="7.2" fill="#e94558"/>
<rect x="856" y="127.0" width="1" height="19.2" fill="#e94558"/>
<rect x="855" y="131.9" width="3" height="12.5" fill="#e94558"/>
<polyline points="76.5,146.3 80.5,147.1 84.5,147.9 88.5,148.6 92.5,149.1 96.5,149.7 100.5,150.2 104.5,150.7 108.5,151.1 112.5,151.5 116.5,152.1 120.5,152.6 124.5,153.3 128.5,154.2 132.5,155.3 136.5,156.2 140.5,157.0 144.5,157.5 148.5,158.1 152.5,158.7 156.5,159.4 160.5,160.1 164.5,160.6 168.5,161.3 172.5,161.8 176.5,162.1 180.5,162.4 184.5,162.8 188.5,163.4 192.5,164.1 196.5,164.7 200.5,165.3 204.5,165.9 208.5,166.4 212.5,167.1 216.5,167.8 220.5,168.5 224.5,169.0 228.5,169.4 232.5,171.0 236.5,172.8 240.5,174.7 244.5,175.7 248.5,176.5 252.5,177.0 256.5,177.4 260.5,177.7 264.5,177.8 268.5,177.9 272.5,178.1 276.5,178.1 280.5,178.3 284.5,178.5 288.5,178.5 292.5,178.6 296.5,178.5 300.5,178.6 304.5,178.6 308.5,178.7 312.5,178.6 316.5,178.4 320.5,178.0 324.5,178.0 328.5,178.0 332.5,178.1 336.5,178.2 340.5,178.0 344.5,177.9 348.5,178.0 352.5,178.0 356.5,177.8 360.5,177.8 364.5,177.7 368.5,177.7 372.5,177.4 376.5,177.1 380.5,177.0 384.5,176.9 388.5,176.8 392.5,176.7 396.5,176.4 400.5,176.2 404.5,175.9 408.5,175.6 412.5,175.3 416.5,174.9 420.5,174.5 424.5,174.2 428.5,173.7 432.5,173.5 436.5,173.1 440.5,172.9 444.5,172.5 448.5,172.3 452.5,172.2 456.5,172.1 460.5,171.8 464.5,171.5 468.5,171.0 472.5,170.6 476.5,170.0 480.5,169.4 484.5,168.8 488.5,168.3 492.5,167.8 496.5,167.6 500.5,167.2 504.5,166.9 508.5,166.3 512.5,165.7 516.5,165.3 520.5,165.0 524.5,164.7 528.5,164.5 532.5,164.3 536.5,164.0 540.5,163.5 544.5,162.9 548.5,162.4 552.5,161.9 556.5,161.6 560.5,161.4 564.5,161.5 568.5,161.6 572.5,161.5 576.5,161.5 580.5,161.4 584.5,161.2 588.5,160.9 592.5,160.7 596.5,160.4 600.5,160.2 604.5,159.8 608.5,159.7 612.5,159.5 616.5,159.3 620.5,159.3 624.5,159.4 628.5,159.6 632.5,159.5 636.5,159.4 640.5,159.2 644.5,159.0 648.5,158.7 652.5,158.4 656.5,158.1 660.5,157.8 664.5,157.5 668.5,157.3 672.5,156.9 676.5,156.4 680.5,155.9 684.5,155.3 688.5,154.6 692.5,153.9 696.5,153.1 700.5,152.2 704.5,151.5 708.5,151.0 712.5,150.6 716.5,150.1 720.5,149.6 724.5,149.2 728.5,149.0 732.5,148.7 736.5,148.4 740.5,147.9 744.5,147.3 748.5,146.9 752.5,146.5 756.5,146.0 760.5,145.6 764.5,145.2 768.5,145.0 772.5,145.0 776.5,145.0 780.5,145.0 784.5,144.9 788.5,145.0 792.5,145.0 796.5,144.9 800.5,144.9 804.5,144.9 808.5,144.9 812.5,144.8 816.5,144.6 820.5,144.2 824.5,143.9 828.5,143.7 832.5,143.5 836.5,143.3 840.5,143.3 844.5,143.3 848.5,143.4 852.5,143.4 856.5,143.3" fill="none" stroke="#e27ae2" stroke-width="1" shape-rendering="crispEdges"/>
<polyline points="76.5,220.2 80.5,220.5 84.5,220.9 88.5,220.7 92.5,220.0 96.5,219.2 100.5,218.6 104.5,218.1 108.5,216.7 112.5,216.1 116.5,215.6 120.5,215.2 124.5,215.4 128.5,216.7 132.5,218.4 136.5,219.8 140.5,220.4 144.5,220.0 148.5,219.6 152.5,219.6 156.5,220.1 160.5,220.3 164.5,220.1 168.5,220.5 172.5,220.2 176.5,219.0 180.5,218.2 184.5,217.5 188.5,217.6 192.5,218.3 196.5,218.7 200.5,218.8 204.5,219.1 208.5,219.2 212.5,219.5 216.5,220.5 220.5,220.9 224.5,221.1 228.5,220.7 232.5,224.9 236.5,229.8 240.5,235.0 244.5,236.8 248.5,237.5 252.5,237.2 256.5,236.2 260.5,235.0 264.5,233.4 268.5,231.6 272.5,230.1 276.5,228.2 280.5,226.9 284.5,225.9 288.5,224.1 292.5,222.6 296.5,220.5 300.5,219.3 304.5,217.9 308.5,216.8 312.5,214.8 316.5,212.4 320.5,209.8 324.5,208.4 328.5,207.4 332.5,206.3 336.5,205.9 340.5,203.9 344.5,202.7 348.5,201.9 352.5,201.0 356.5,199.4 360.5,198.4 364.5,197.3 368.5,196.5 372.5,194.5 376.5,192.8 380.5,191.7 384.5,191.0 388.5,190.0 392.5,189.2 396.5,187.5 400.5,186.4 404.5,184.8 408.5,183.1 412.5,181.6 416.5,179.9 420.5,178.1 424.5,176.7 428.5,174.9 432.5,173.8 436.5,172.2 440.5,171.5 444.5,170.2 448.5,169.5 452.5,169.2 456.5,168.8 460.5,168.0 464.5,166.8 468.5,165.1 472.5,163.8 476.5,161.7 480.5,159.7 484.5,157.7 488.5,156.0 492.5,154.8 496.5,154.4 500.5,153.5 504.5,152.6 508.5,150.8 512.5,149.3 516.5,148.4 520.5,148.0 524.5,147.3 528.5,147.3 532.5,147.0 536.5,146.5 540.5,145.5 544.5,143.8 548.5,142.3 552.5,141.3 556.5,141.1 560.5,141.0 564.5,142.2 568.5,143.4 572.5,143.8 576.5,144.3 580.5,144.7 584.5,144.6 588.5,144.2 592.5,143.8 596.5,143.6 600.5,143.2 604.5,142.5 608.5,142.6 612.5,142.5 616.5,142.6 620.5,143.4 624.5,144.4 628.5,145.6 632.5,145.7 636.5,145.8 640.5,145.8 644.5,145.6 648.5,145.0 652.5,144.3 656.5,143.5 660.5,143.2 664.5,142.5 668.5,142.2 672.5,141.4 676.5,140.0 680.5,138.8 684.5,137.2 688.5,134.9 692.5,132.9 696.5,130.7 700.5,128.2 704.5,126.4 708.5,125.3 712.5,124.5 716.5,123.7 720.5,122.9 724.5,122.4 728.5,122.6 732.5,122.6 736.5,122.2 740.5,121.2 744.5,120.3 748.5,119.6 752.5,119.0 756.5,118.1 760.5,117.8 764.5,117.4 768.5,117.6 772.5,118.9 776.5,119.6 780.5,120.8 784.5,121.5 788.5,122.6 792.5,123.5 796.5,124.0 800.5,124.9 804.5,125.9 808.5,126.4 812.5,126.8 816.5,126.6 820.5,125.9 824.5,125.5 828.5,125.3 832.5,125.2 836.5,125.4 840.5,126.3 844.5,126.8 848.5,127.8 852.5,128.5 856.5,128.6" fill="none" stroke="#3cbf80" stroke-width="1" shape-rendering="crispEdges"/>
<rect x="73" y="102" width="836" height="1" fill="#0000ff"/>
<rect x="73" y="182" width="836" height="1" fill="#0000ff"/>
<rect x="704" y="59" width="205" height="2" fill="#0000ff"/>
<line x1="344" y1="203.62" x2="909" y2="155.56" stroke="#0000ff" stroke-width="2" shape-rendering="crispEdges"/>
<line x1="74" y1="131.5" x2="909" y2="131.5" stroke="#1a7cf5" stroke-width="1" stroke-dasharray="3 3"/>
<path d="M516.3,99.5 A31.7,26.2 0 0 1 579.7,99.5" fill="none" stroke="#0000ff" stroke-width="1.1" shape-rendering="crispEdges"/>
<path d="M676.4,62.2 A23.6,22 0 0 1 723.6,62.2" fill="none" stroke="#0000ff" stroke-width="1.1" shape-rendering="crispEdges"/>
<path d="M792.1999999999999,99.3 A31.7,21.7 0 0 1 855.6,99.3" fill="none" stroke="#0000ff" stroke-width="1.1" shape-rendering="crispEdges"/>
<path d="M701.5,60.2 h4.5 M704.2,58 v4" stroke="#000" stroke-width="1.1"/>
<path d="M242,378.5 h7 M244.8,376 v4.5" stroke="#000" stroke-width="1.5"/>
<text x="709.2" y="57" font-family="Liberation Sans, sans-serif" font-size="12" font-weight="bold" fill="#f04e66" textLength="37.4" lengthAdjust="spacingAndGlyphs">0.6706</text>
<text x="249" y="390" font-family="Liberation Sans, sans-serif" font-size="12" font-weight="bold" fill="#46b08a" textLength="37.6" lengthAdjust="spacingAndGlyphs">0.5913</text>
<text x="908.8" y="99" font-family="Liberation Sans, sans-serif" font-size="12.2" fill="#0000ff" text-anchor="end" font-weight="normal" >0.6600</text>
<text x="908.8" y="179" font-family="Liberation Sans, sans-serif" font-size="12.2" fill="#0000ff" text-anchor="end" font-weight="normal" >0.6400</text>
<rect x="909.5" y="131.5" width="68" height="17" fill="#fff" stroke="#ff8000" stroke-width="1"/>
<text x="911.6" y="143.8" font-family="Liberation Sans, sans-serif" font-size="12.2" fill="#ff8000" text-anchor="start" font-weight="normal" >0.6528</text>
<path d="M973,122.8 L977,126.9 H969 Z M973,127.4 L977.4,131.6 H968.6 Z" fill="#ff8000"/>
<rect x="76" y="457" width="1" height="15" fill="#e94558"/>
<rect x="80" y="455" width="1" height="17" fill="#e94558"/>
<rect x="84" y="457" width="1" height="15" fill="#e94558"/>
<rect x="88" y="454" width="1" height="18" fill="#e94558"/>
<rect x="92" y="450" width="1" height="22" fill="#e94558"/>
<rect x="96" y="447" width="1" height="25" fill="#e94558"/>
<rect x="100" y="448" width="1" height="24" fill="#e94558"/>
<rect x="104" y="450" width="1" height="22" fill="#e94558"/>
<rect x="108" y="447" width="1" height="25" fill="#e94558"/>
<rect x="112" y="451" width="1" height="21" fill="#e94558"/>
<rect x="116" y="456" width="1" height="16" fill="#e94558"/>
<rect x="120" y="460" width="1" height="12" fill="#e94558"/>
<rect x="124" y="468" width="1" height="4" fill="#e94558"/>
<rect x="128" y="471" width="1" height="10" fill="#4cb47f"/>
<rect x="132" y="471" width="1" height="21" fill="#4cb47f"/>
<rect x="136" y="471" width="1" height="25" fill="#4cb47f"/>
<rect x="140" y="471" width="1" height="21" fill="#4cb47f"/>
<rect x="144" y="471" width="1" height="11" fill="#4cb47f"/>
<rect x="148" y="471" width="1" height="5" fill="#4cb47f"/>
<rect x="152" y="471" width="1" height="4" fill="#4cb47f"/>
<rect x="156" y="471" width="1" height="6" fill="#4cb47f"/>
<rect x="160" y="471" width="1" height="5" fill="#4cb47f"/>
<rect x="164" y="471" width="1" height="1" fill="#4cb47f"/>
<rect x="168" y="471" width="1" height="3" fill="#4cb47f"/>
<rect x="172" y="470" width="1" height="2" fill="#e94558"/>
<rect x="176" y="462" width="1" height="10" fill="#e94558"/>
<rect x="180" y="460" width="1" height="12" fill="#e94558"/>
<rect x="184" y="459" width="1" height="13" fill="#e94558"/>
<rect x="188" y="466" width="1" height="6" fill="#e94558"/>
<rect x="192" y="471" width="1" height="3" fill="#4cb47f"/>
<rect x="196" y="471" width="1" height="6" fill="#4cb47f"/>
<rect x="200" y="471" width="1" height="6" fill="#4cb47f"/>
<rect x="204" y="471" width="1" height="7" fill="#4cb47f"/>
<rect x="208" y="471" width="1" height="6" fill="#4cb47f"/>
<rect x="212" y="471" width="1" height="7" fill="#4cb47f"/>
<rect x="216" y="471" width="1" height="12" fill="#4cb47f"/>
<rect x="220" y="471" width="1" height="11" fill="#4cb47f"/>
<rect x="224" y="471" width="1" height="8" fill="#4cb47f"/>
<rect x="228" y="471" width="1" height="3" fill="#4cb47f"/>
<rect x="232" y="471" width="1" height="31" fill="#4cb47f"/>
<rect x="236" y="471" width="1" height="54" fill="#4cb47f"/>
<rect x="240" y="471" width="1" height="66" fill="#4cb47f"/>
<rect x="244" y="471" width="1" height="46" fill="#4cb47f"/>
<rect x="248" y="471" width="1" height="31" fill="#4cb47f"/>
<rect x="252" y="471" width="1" height="2" fill="#4cb47f"/>
<rect x="256" y="454" width="1" height="18" fill="#e94558"/>
<rect x="260" y="442" width="1" height="30" fill="#e94558"/>
<rect x="264" y="434" width="1" height="38" fill="#e94558"/>
<rect x="268" y="427" width="1" height="45" fill="#e94558"/>
<rect x="272" y="427" width="1" height="45" fill="#e94558"/>
<rect x="276" y="425" width="1" height="47" fill="#e94558"/>
<rect x="280" y="431" width="1" height="41" fill="#e94558"/>
<rect x="284" y="437" width="1" height="35" fill="#e94558"/>
<rect x="288" y="438" width="1" height="34" fill="#e94558"/>
<rect x="292" y="442" width="1" height="30" fill="#e94558"/>
<rect x="296" y="442" width="1" height="30" fill="#e94558"/>
<rect x="300" y="449" width="1" height="23" fill="#e94558"/>
<rect x="304" y="453" width="1" height="19" fill="#e94558"/>
<rect x="308" y="459" width="1" height="13" fill="#e94558"/>
<rect x="312" y="457" width="1" height="15" fill="#e94558"/>
<rect x="316" y="455" width="1" height="17" fill="#e94558"/>
<rect x="320" y="452" width="1" height="20" fill="#e94558"/>
<rect x="324" y="459" width="1" height="13" fill="#e94558"/>
<rect x="328" y="467" width="1" height="5" fill="#e94558"/>
<rect x="332" y="471" width="1" height="2" fill="#4cb47f"/>
<rect x="336" y="471" width="1" height="10" fill="#4cb47f"/>
<rect x="340" y="471" width="1" height="4" fill="#4cb47f"/>
<rect x="344" y="471" width="1" height="6" fill="#4cb47f"/>
<rect x="348" y="471" width="1" height="9" fill="#4cb47f"/>
<rect x="352" y="471" width="1" height="11" fill="#4cb47f"/>
<rect x="356" y="471" width="1" height="7" fill="#4cb47f"/>
<rect x="360" y="471" width="1" height="8" fill="#4cb47f"/>
<rect x="364" y="471" width="1" height="8" fill="#4cb47f"/>
<rect x="368" y="471" width="1" height="10" fill="#4cb47f"/>
<rect x="372" y="471" width="1" height="3" fill="#4cb47f"/>
<rect x="376" y="469" width="1" height="3" fill="#e94558"/>
<rect x="380" y="471" width="1" height="2" fill="#4cb47f"/>
<rect x="384" y="471" width="1" height="6" fill="#4cb47f"/>
<rect x="388" y="471" width="1" height="7" fill="#4cb47f"/>
<rect x="392" y="471" width="1" height="8" fill="#4cb47f"/>
<rect x="396" y="471" width="1" height="3" fill="#4cb47f"/>
<rect x="400" y="471" width="1" height="3" fill="#4cb47f"/>
<rect x="404" y="470" width="1" height="2" fill="#e94558"/>
<rect x="408" y="468" width="1" height="4" fill="#e94558"/>
<rect x="412" y="468" width="1" height="4" fill="#e94558"/>
<rect x="416" y="466" width="1" height="6" fill="#e94558"/>
<rect x="420" y="465" width="1" height="7" fill="#e94558"/>
<rect x="424" y="467" width="1" height="5" fill="#e94558"/>
<rect x="428" y="465" width="1" height="7" fill="#e94558"/>
<rect x="432" y="470" width="1" height="2" fill="#e94558"/>
<rect x="436" y="470" width="1" height="2" fill="#e94558"/>
<rect x="440" y="471" width="1" height="5" fill="#4cb47f"/>
<rect x="444" y="471" width="1" height="5" fill="#4cb47f"/>
<rect x="448" y="471" width="1" height="8" fill="#4cb47f"/>
<rect x="452" y="471" width="1" height="13" fill="#4cb47f"/>
<rect x="456" y="471" width="1" height="15" fill="#4cb47f"/>
<rect x="460" y="471" width="1" height="13" fill="#4cb47f"/>
<rect x="464" y="471" width="1" height="8" fill="#4cb47f"/>
<rect x="468" y="471" width="1" height="2" fill="#4cb47f"/>
<rect x="472" y="470" width="1" height="2" fill="#e94558"/>
<rect x="476" y="464" width="1" height="8" fill="#e94558"/>
<rect x="480" y="461" width="1" height="11" fill="#e94558"/>
<rect x="484" y="459" width="1" height="13" fill="#e94558"/>
<rect x="488" y="460" width="1" height="12" fill="#e94558"/>
<rect x="492" y="464" width="1" height="8" fill="#e94558"/>
<rect x="496" y="471" width="1" height="3" fill="#4cb47f"/>
<rect x="500" y="471" width="1" height="6" fill="#4cb47f"/>
<rect x="504" y="471" width="1" height="7" fill="#4cb47f"/>
<rect x="508" y="471" width="1" height="2" fill="#4cb47f"/>
<rect x="512" y="470" width="1" height="2" fill="#e94558"/>
<rect x="516" y="471" width="1" height="3" fill="#4cb47f"/>
<rect x="520" y="471" width="1" height="8" fill="#4cb47f"/>
<rect x="524" y="471" width="1" height="9" fill="#4cb47f"/>
<rect x="528" y="471" width="1" height="14" fill="#4cb47f"/>
<rect x="532" y="471" width="1" height="15" fill="#4cb47f"/>
<rect x="536" y="471" width="1" height="13" fill="#4cb47f"/>
<rect x="540" y="471" width="1" height="9" fill="#4cb47f"/>
<rect x="544" y="470" width="1" height="2" fill="#e94558"/>
<rect x="548" y="467" width="1" height="5" fill="#e94558"/>
<rect x="552" y="467" width="1" height="5" fill="#e94558"/>
<rect x="556" y="471" width="1" height="3" fill="#4cb47f"/>
<rect x="560" y="471" width="1" height="8" fill="#4cb47f"/>
<rect x="564" y="471" width="1" height="19" fill="#4cb47f"/>
<rect x="568" y="471" width="1" height="25" fill="#4cb47f"/>
<rect x="572" y="471" width="1" height="23" fill="#4cb47f"/>
<rect x="576" y="471" width="1" height="22" fill="#4cb47f"/>
<rect x="580" y="471" width="1" height="19" fill="#4cb47f"/>
<rect x="584" y="471" width="1" height="13" fill="#4cb47f"/>
<rect x="588" y="471" width="1" height="6" fill="#4cb47f"/>
<rect x="592" y="471" width="1" height="2" fill="#4cb47f"/>
<rect x="596" y="470" width="1" height="2" fill="#e94558"/>
<rect x="600" y="467" width="1" height="5" fill="#e94558"/>
<rect x="604" y="464" width="1" height="8" fill="#e94558"/>
<rect x="608" y="467" width="1" height="5" fill="#e94558"/>
<rect x="612" y="468" width="1" height="4" fill="#e94558"/>
<rect x="616" y="470" width="1" height="2" fill="#e94558"/>
<rect x="620" y="471" width="1" height="5" fill="#4cb47f"/>
<rect x="624" y="471" width="1" height="11" fill="#4cb47f"/>
<rect x="628" y="471" width="1" height="15" fill="#4cb47f"/>
<rect x="632" y="471" width="1" height="9" fill="#4cb47f"/>
<rect x="636" y="471" width="1" height="5" fill="#4cb47f"/>
<rect x="640" y="471" width="1" height="2" fill="#4cb47f"/>
<rect x="644" y="468" width="1" height="4" fill="#e94558"/>
<rect x="648" y="463" width="1" height="9" fill="#e94558"/>
<rect x="652" y="459" width="1" height="13" fill="#e94558"/>
<rect x="656" y="456" width="1" height="16" fill="#e94558"/>
<rect x="660" y="458" width="1" height="14" fill="#e94558"/>
<rect x="664" y="458" width="1" height="14" fill="#e94558"/>
<rect x="668" y="460" width="1" height="12" fill="#e94558"/>
<rect x="672" y="459" width="1" height="13" fill="#e94558"/>
<rect x="676" y="455" width="1" height="17" fill="#e94558"/>
<rect x="680" y="454" width="1" height="18" fill="#e94558"/>
<rect x="684" y="451" width="1" height="21" fill="#e94558"/>
<rect x="688" y="446" width="1" height="26" fill="#e94558"/>
<rect x="692" y="445" width="1" height="27" fill="#e94558"/>
<rect x="696" y="444" width="1" height="28" fill="#e94558"/>
<rect x="700" y="443" width="1" height="29" fill="#e94558"/>
<rect x="704" y="448" width="1" height="24" fill="#e94558"/>
<rect x="708" y="457" width="1" height="15" fill="#e94558"/>
<rect x="712" y="466" width="1" height="6" fill="#e94558"/>
<rect x="716" y="471" width="1" height="2" fill="#4cb47f"/>
<rect x="720" y="471" width="1" height="6" fill="#4cb47f"/>
<rect x="724" y="471" width="1" height="10" fill="#4cb47f"/>
<rect x="728" y="471" width="1" height="17" fill="#4cb47f"/>
<rect x="732" y="471" width="1" height="20" fill="#4cb47f"/>
<rect x="736" y="471" width="1" height="19" fill="#4cb47f"/>
<rect x="740" y="471" width="1" height="13" fill="#4cb47f"/>
<rect x="744" y="471" width="1" height="9" fill="#4cb47f"/>
<rect x="748" y="471" width="1" height="8" fill="#4cb47f"/>
<rect x="752" y="471" width="1" height="7" fill="#4cb47f"/>
<rect x="756" y="471" width="1" height="5" fill="#4cb47f"/>
<rect x="760" y="471" width="1" height="7" fill="#4cb47f"/>
<rect x="764" y="471" width="1" height="8" fill="#4cb47f"/>
<rect x="768" y="471" width="1" height="11" fill="#4cb47f"/>
<rect x="772" y="471" width="1" height="21" fill="#4cb47f"/>
<rect x="776" y="471" width="1" height="23" fill="#4cb47f"/>
<rect x="780" y="471" width="1" height="25" fill="#4cb47f"/>
<rect x="784" y="471" width="1" height="23" fill="#4cb47f"/>
<rect x="788" y="471" width="1" height="23" fill="#4cb47f"/>
<rect x="792" y="471" width="1" height="21" fill="#4cb47f"/>
<rect x="796" y="471" width="1" height="17" fill="#4cb47f"/>
<rect x="800" y="471" width="1" height="15" fill="#4cb47f"/>
<rect x="804" y="471" width="1" height="14" fill="#4cb47f"/>
<rect x="808" y="471" width="1" height="9" fill="#4cb47f"/>
<rect x="812" y="471" width="1" height="6" fill="#4cb47f"/>
<rect x="816" y="469" width="1" height="3" fill="#e94558"/>
<rect x="820" y="461" width="1" height="11" fill="#e94558"/>
<rect x="824" y="457" width="1" height="15" fill="#e94558"/>
<rect x="828" y="457" width="1" height="15" fill="#e94558"/>
<rect x="832" y="459" width="1" height="13" fill="#e94558"/>
<rect x="836" y="461" width="1" height="11" fill="#e94558"/>
<rect x="840" y="468" width="1" height="4" fill="#e94558"/>
<rect x="844" y="471" width="1" height="1" fill="#4cb47f"/>
<rect x="848" y="471" width="1" height="5" fill="#4cb47f"/>
<rect x="852" y="471" width="1" height="6" fill="#4cb47f"/>
<rect x="856" y="471" width="1" height="2" fill="#4cb47f"/>
<polyline points="76.5,479.8 80.5,477.9 84.5,476.1 88.5,474.1 92.5,471.5 96.5,468.6 100.5,465.8 104.5,463.3 108.5,460.3 112.5,457.9 116.5,456.1 120.5,454.7 124.5,454.4 128.5,455.6 132.5,458.1 136.5,461.1 140.5,463.7 144.5,465.1 148.5,465.6 152.5,466.0 156.5,466.7 160.5,467.2 164.5,467.4 168.5,467.7 172.5,467.6 176.5,466.6 180.5,465.2 184.5,463.8 188.5,463.2 192.5,463.5 196.5,464.2 200.5,465.0 204.5,465.8 208.5,466.5 212.5,467.3 216.5,468.7 220.5,470.1 224.5,471.0 228.5,471.2 232.5,475.5 236.5,482.0 240.5,489.8 244.5,496.0 248.5,499.5 252.5,500.0 256.5,498.0 260.5,494.1 264.5,489.2 268.5,483.8 272.5,478.4 276.5,472.8 280.5,467.8 284.5,463.6 288.5,459.6 292.5,456.0 296.5,452.4 300.5,449.7 304.5,447.5 308.5,446.1 312.5,444.4 316.5,442.4 320.5,440.1 324.5,438.6 328.5,438.2 332.5,438.4 336.5,439.5 340.5,440.0 344.5,440.6 348.5,441.7 352.5,443.0 356.5,443.8 360.5,444.7 364.5,445.6 368.5,446.8 372.5,447.1 376.5,446.9 380.5,447.2 384.5,447.9 388.5,448.7 392.5,449.7 396.5,450.0 400.5,450.3 404.5,450.3 408.5,450.0 412.5,449.6 416.5,449.0 420.5,448.3 424.5,447.8 428.5,447.2 432.5,447.1 436.5,447.0 440.5,447.6 444.5,448.1 448.5,449.1 452.5,450.6 456.5,452.4 460.5,454.0 464.5,454.9 468.5,455.1 472.5,455.1 476.5,454.2 480.5,453.0 484.5,451.5 488.5,450.2 492.5,449.5 496.5,449.8 500.5,450.5 504.5,451.2 508.5,451.4 512.5,451.3 516.5,451.6 520.5,452.5 524.5,453.6 528.5,455.2 532.5,457.0 536.5,458.6 540.5,459.7 544.5,459.6 548.5,459.1 552.5,458.8 556.5,459.1 560.5,459.9 564.5,462.2 568.5,465.3 572.5,468.2 576.5,470.8 580.5,473.1 584.5,474.7 588.5,475.4 592.5,475.6 596.5,475.6 600.5,475.2 604.5,474.3 608.5,473.9 612.5,473.5 616.5,473.5 620.5,474.1 624.5,475.3 628.5,477.1 632.5,478.1 636.5,478.7 640.5,478.9 644.5,478.6 648.5,477.6 652.5,476.2 656.5,474.4 660.5,472.9 664.5,471.3 668.5,470.1 672.5,468.6 676.5,466.7 680.5,464.6 684.5,462.2 688.5,459.1 692.5,456.0 696.5,452.7 700.5,449.3 704.5,446.5 708.5,444.9 712.5,444.3 716.5,444.5 720.5,445.1 724.5,446.3 728.5,448.3 732.5,450.8 736.5,453.0 740.5,454.6 744.5,455.6 748.5,456.6 752.5,457.4 756.5,457.9 760.5,458.7 764.5,459.6 768.5,461.0 772.5,463.6 776.5,466.3 780.5,469.4 784.5,472.3 788.5,475.2 792.5,477.8 796.5,479.8 800.5,481.6 804.5,483.2 808.5,484.4 812.5,485.0 816.5,484.8 820.5,483.5 824.5,481.9 828.5,480.2 832.5,478.8 836.5,477.6 840.5,477.4 844.5,477.4 848.5,478.0 852.5,478.6 856.5,478.8" fill="none" stroke="#3dba78" stroke-width="1" shape-rendering="crispEdges"/>
<polyline points="76.5,472.8 80.5,470.3 84.5,469.2 88.5,466.0 92.5,461.0 96.5,457.1 100.5,454.5 104.5,453.1 108.5,448.7 112.5,448.3 116.5,448.6 120.5,449.5 124.5,453.0 128.5,460.4 132.5,468.1 136.5,473.2 140.5,474.0 144.5,470.5 148.5,468.0 152.5,467.6 156.5,469.3 160.5,469.4 164.5,467.8 168.5,469.1 172.5,467.3 176.5,462.2 180.5,459.7 184.5,458.2 188.5,460.8 192.5,464.8 196.5,467.2 200.5,468.0 204.5,469.0 208.5,469.4 212.5,470.6 216.5,474.4 220.5,475.3 224.5,474.7 228.5,472.2 232.5,488.0 236.5,506.3 240.5,521.6 244.5,521.0 248.5,511.5 252.5,500.7 256.5,490.0 260.5,479.7 264.5,471.1 268.5,462.3 272.5,456.7 276.5,450.1 280.5,448.0 284.5,447.0 288.5,443.5 292.5,441.6 296.5,438.0 300.5,439.1 304.5,438.8 308.5,440.2 312.5,437.7 316.5,434.5 320.5,430.7 324.5,432.7 328.5,436.4 332.5,439.2 336.5,444.1 340.5,441.8 344.5,443.2 348.5,445.9 352.5,448.3 356.5,447.0 360.5,448.4 364.5,449.2 368.5,451.5 372.5,448.1 376.5,446.4 380.5,448.1 384.5,450.7 388.5,452.0 392.5,453.6 396.5,451.2 400.5,451.6 404.5,450.2 408.5,448.6 412.5,448.1 416.5,446.6 420.5,445.3 424.5,446.1 428.5,444.7 432.5,446.9 436.5,446.6 440.5,449.8 444.5,450.3 448.5,452.7 452.5,456.9 456.5,459.7 460.5,460.1 464.5,458.8 468.5,455.9 472.5,454.7 476.5,450.9 480.5,448.0 484.5,445.8 488.5,445.1 492.5,446.4 496.5,451.3 500.5,453.1 504.5,454.3 508.5,452.0 512.5,451.0 516.5,452.6 520.5,456.0 524.5,457.9 528.5,462.0 532.5,464.3 536.5,465.0 540.5,463.7 544.5,459.5 548.5,457.2 552.5,457.2 556.5,460.2 560.5,463.4 564.5,471.3 568.5,477.8 572.5,479.5 576.5,481.4 580.5,482.3 584.5,480.9 588.5,478.3 592.5,476.5 596.5,475.5 600.5,473.5 604.5,470.9 608.5,472.1 612.5,472.2 616.5,473.2 620.5,476.5 624.5,480.4 628.5,484.2 632.5,482.2 636.5,481.2 640.5,479.5 644.5,477.3 648.5,473.8 652.5,470.7 656.5,467.3 660.5,466.8 664.5,464.9 668.5,465.0 672.5,462.9 676.5,458.9 680.5,456.3 684.5,452.5 688.5,446.8 692.5,443.4 696.5,439.6 700.5,435.8 704.5,435.4 708.5,438.2 712.5,442.2 716.5,445.1 720.5,447.7 724.5,450.8 728.5,456.5 732.5,460.6 736.5,462.0 740.5,460.8 744.5,459.8 748.5,460.4 752.5,460.8 756.5,460.0 760.5,462.0 764.5,463.2 768.5,466.3 772.5,473.9 776.5,477.4 780.5,481.8 784.5,483.7 788.5,486.6 792.5,488.1 796.5,487.8 800.5,488.8 804.5,489.9 808.5,488.8 812.5,487.7 816.5,483.8 820.5,478.6 824.5,475.2 828.5,473.7 832.5,473.0 836.5,473.1 840.5,476.3 844.5,477.6 848.5,480.2 852.5,481.2 856.5,479.6" fill="none" stroke="#2b7ff0" stroke-width="1" shape-rendering="crispEdges"/>
<polyline points="76.5,594.5 80.5,588.0 84.5,594.2 88.5,581.2 92.5,570.2 96.5,569.6 100.5,572.2 104.5,576.1 108.5,560.6 112.5,580.6 116.5,583.2 120.5,585.3 124.5,600.6 128.5,620.7 132.5,627.3 136.5,621.1 140.5,604.5 144.5,587.7 148.5,588.5 152.5,595.8 156.5,604.6 160.5,598.7 164.5,591.7 168.5,602.6 172.5,591.1 176.5,578.2 180.5,584.6 184.5,586.0 188.5,601.3 192.5,608.6 196.5,604.7 200.5,600.2 204.5,601.6 208.5,599.6 212.5,604.1 216.5,615.7 220.5,605.7 224.5,599.6 228.5,590.9 232.5,642.3 236.5,648.0 240.5,650.2 244.5,610.7 248.5,600.0 252.5,592.1 256.5,586.7 260.5,584.6 264.5,581.1 268.5,578.6 272.5,582.4 276.5,577.3 280.5,585.9 284.5,587.1 288.5,580.1 292.5,581.7 296.5,576.3 300.5,587.7 304.5,584.0 308.5,588.5 312.5,578.3 316.5,574.5 320.5,570.8 324.5,586.9 328.5,592.3 332.5,590.9 336.5,598.6 340.5,581.1 344.5,590.2 348.5,594.4 352.5,594.1 356.5,584.6 360.5,591.9 364.5,590.1 368.5,595.3 372.5,579.9 376.5,582.3 380.5,592.3 384.5,595.8 388.5,592.5 392.5,594.3 396.5,581.8 400.5,589.8 404.5,584.0 408.5,581.5 412.5,584.1 416.5,579.5 420.5,578.4 424.5,585.3 428.5,577.5 432.5,591.7 436.5,583.3 440.5,596.8 444.5,588.8 448.5,595.9 452.5,603.6 456.5,601.3 460.5,593.6 464.5,587.4 468.5,580.4 472.5,585.0 476.5,574.8 480.5,574.3 484.5,573.8 488.5,578.0 492.5,586.4 496.5,603.6 500.5,593.5 504.5,592.1 508.5,579.2 512.5,582.2 516.5,592.5 520.5,601.3 524.5,597.0 528.5,607.1 532.5,602.9 536.5,597.6 540.5,589.2 544.5,577.1 548.5,581.9 552.5,589.9 556.5,602.3 560.5,605.5 564.5,623.6 568.5,624.7 572.5,609.6 576.5,611.5 580.5,609.8 584.5,600.7 588.5,594.4 592.5,596.4 596.5,598.3 600.5,593.3 604.5,588.3 608.5,604.3 612.5,600.6 616.5,604.9 620.5,616.0 624.5,621.6 628.5,624.9 632.5,599.5 636.5,602.4 640.5,598.9 644.5,595.0 648.5,587.3 652.5,586.1 656.5,581.7 660.5,594.0 664.5,586.3 668.5,595.3 672.5,584.9 676.5,575.3 680.5,577.7 684.5,570.6 688.5,561.1 692.5,566.0 696.5,561.5 700.5,557.8 704.5,571.6 708.5,587.2 712.5,594.1 716.5,591.5 720.5,591.5 724.5,596.5 728.5,611.1 732.5,608.4 736.5,597.9 740.5,586.6 744.5,586.0 748.5,593.0 752.5,592.4 756.5,585.7 760.5,600.7 764.5,598.1 768.5,608.9 772.5,629.0 776.5,615.9 780.5,622.3 784.5,614.1 788.5,620.4 792.5,616.9 796.5,609.9 800.5,615.9 804.5,617.9 808.5,608.1 812.5,607.7 816.5,593.2 820.5,584.4 824.5,588.1 828.5,595.0 832.5,597.9 836.5,601.9 840.5,616.5 844.5,610.4 848.5,617.6 852.5,611.7 856.5,599.2" fill="none" stroke="#33ade0" stroke-width="1" shape-rendering="crispEdges"/>
<text x="203.6" y="13.9" font-family="Liberation Sans, sans-serif" font-size="12" fill="#111" stroke="#111" stroke-width="0.3" textLength="151" lengthAdjust="spacingAndGlyphs">EXPMA(50,50,200,200,200)</text>
<text x="360.6" y="13.9" font-family="Liberation Sans, sans-serif" font-size="12" fill="#3a8bf2" stroke="#3a8bf2" stroke-width="0.3" textLength="68" lengthAdjust="spacingAndGlyphs">MA1:0.6535</text>
<text x="436.2" y="13.9" font-family="Liberation Sans, sans-serif" font-size="12" fill="#5cc58a" stroke="#5cc58a" stroke-width="0.3" textLength="68" lengthAdjust="spacingAndGlyphs">MA2:0.6535</text>
<text x="512.2" y="13.9" font-family="Liberation Sans, sans-serif" font-size="12" fill="#4ab2e2" stroke="#4ab2e2" stroke-width="0.3" textLength="67.6" lengthAdjust="spacingAndGlyphs">MA3:0.6498</text>
<text x="587.8" y="13.9" font-family="Liberation Sans, sans-serif" font-size="12" fill="#f5a050" stroke="#f5a050" stroke-width="0.3" textLength="67.6" lengthAdjust="spacingAndGlyphs">MA4:0.6498</text>
<text x="663.4" y="13.9" font-family="Liberation Sans, sans-serif" font-size="12" fill="#ee88e6" stroke="#ee88e6" stroke-width="0.3" textLength="67.6" lengthAdjust="spacingAndGlyphs">MA5:0.6498</text>
<text x="75.8" y="415.8" font-family="Liberation Sans, sans-serif" font-size="12" fill="#111" stroke="#111" stroke-width="0.3" textLength="85" lengthAdjust="spacingAndGlyphs">MACD(26,12,9)</text>
<text x="165.4" y="415.8" font-family="Liberation Sans, sans-serif" font-size="12" fill="#3a8bf2" stroke="#3a8bf2" stroke-width="0.3" textLength="70" lengthAdjust="spacingAndGlyphs">DIFF:-0.0011</text>
<text x="244.2" y="415.8" font-family="Liberation Sans, sans-serif" font-size="12" fill="#5cc58a" stroke="#5cc58a" stroke-width="0.3" textLength="69.4" lengthAdjust="spacingAndGlyphs">DEA:-0.0010</text>
<text x="322.4" y="415.8" font-family="Liberation Sans, sans-serif" font-size="12" fill="#4ab2e2" stroke="#4ab2e2" stroke-width="0.3" textLength="82.5" lengthAdjust="spacingAndGlyphs">MACD:-0.0002</text>
<text x="74.4" y="551.3" font-family="Liberation Sans, sans-serif" font-size="12" fill="#111" stroke="#111" stroke-width="0.3" textLength="75" lengthAdjust="spacingAndGlyphs">RSI(14,14,14)</text>
<text x="154.3" y="551.3" font-family="Liberation Sans, sans-serif" font-size="12" fill="#3a8bf2" stroke="#3a8bf2" stroke-width="0.3" textLength="74.2" lengthAdjust="spacingAndGlyphs">RSI1:49.9482</text>
<text x="235.6" y="551.3" font-family="Liberation Sans, sans-serif" font-size="12" fill="#5cc58a" stroke="#5cc58a" stroke-width="0.3" textLength="74.6" lengthAdjust="spacingAndGlyphs">RSI2:49.9482</text>
<text x="318.2" y="551.3" font-family="Liberation Sans, sans-serif" font-size="12" fill="#4ab2e2" stroke="#4ab2e2" stroke-width="0.3" textLength="73.6" lengthAdjust="spacingAndGlyphs">RSI3:49.9482</text>
<path transform="translate(75.5,4.5) scale(1.0,1.0)" d="M0.6,-0.2 L1.6,0.8 M0,2.8 L1,3.6 M0.3,10.5 L2.2,6.8 M4,1 V6 M4,1 H11 V6 M7.5,-0.3 V5.6 M5.3,2.4 L9.7,4.9 M9.7,2.4 L5.3,4.9 M2.8,7 H12 M7.3,7 C6.9,9 5.4,10 3,10.6 M7.7,8.3 C8.7,9.6 10.1,10.3 12,10.6" fill="none" stroke="#000" stroke-width="1.15"/>
<path transform="translate(87.5,4.5) scale(1.0,1.0)" d="M2,0 H10 M0,4 H11 M4,4.5 C4,7 2.6,9.2 0.3,10.3 M7,4.5 V9 Q7,9.7 7.7,9.7 H10.6 V8" fill="none" stroke="#000" stroke-width="1.15"/>
<path transform="translate(99.5,4.5) scale(1.0,1.0)" d="M2.6,-0.3 L3.4,1 M9.4,-0.3 L8.6,1 M1.5,2 H10.5 M2,4 H10 M0.5,6 H11.5 M6,2 V6 M6,6 C5.6,8 4,9.6 0.6,10.6 M6.6,7.6 C7.6,9.2 9.4,10.2 11.6,10.6" fill="none" stroke="#000" stroke-width="1.15"/>
<path transform="translate(111.5,4.5) scale(1.0,1.0)" d="M2,0 H10 M0,4 H11 M4,4.5 C4,7 2.6,9.2 0.3,10.3 M7,4.5 V9 Q7,9.7 7.7,9.7 H10.6 V8" fill="none" stroke="#000" stroke-width="1.15"/>
<path d="M134.6,4.4 H130.4 Q129.2,10.2 130.4,15.9 H134.6 V14.6 H132.6 Q131.8,10.2 132.6,5.7 H134.6 Z" fill="#ff7a0e"/>
<path transform="translate(136.5,4.5) scale(1.0,1.0)" d="M1,0 H8 V10 H1 Z M1,5 H8" fill="none" stroke="#ff7a0e" stroke-width="1.0"/>
<path transform="translate(147.5,4.5) scale(1.0,1.0)" d="M3,-0.3 L0.6,3.2 L3.4,3 M3.6,1.6 L0.2,7 L4,6.2 M0.2,10.6 L4,9.4 M5,3 L10.6,2.2 M4.8,5.6 L11.4,4.6 M6.6,-0.3 C7.2,4.6 8.8,8.6 11.6,11 M10.8,6.8 C9.6,8.6 7.6,10 5,11 M9.4,-0.3 L10.4,0.7" fill="none" stroke="#ff7a0e" stroke-width="1.0"/>
<path d="M159.8,4.4 H164 Q165.2,10.2 164,15.9 H159.8 V14.6 H161.8 Q162.6,10.2 161.8,5.7 H159.8 Z" fill="#ff7a0e"/>
<circle cx="175.6" cy="11.3" r="4.1" fill="none" stroke="#ff7a0e" stroke-width="1"/><path d="M171.5,11.3 H179.7 M175.6,7.2 V15.4" stroke="#ff7a0e" stroke-width="1"/>
<path d="M189,1.5 H199.5 V13.5 H189 Z" fill="#fff" stroke="#000080" stroke-width="1.1"/>
<path d="M199.8,2.5 V14.3 H190" fill="none" stroke="#9a9a9a" stroke-width="0.8" opacity="0.6"/>
<polyline points="189.4,8.6 192.5,4.4 195.4,7.4 197.6,5.4 199,5.4" fill="none" stroke="#ff0000" stroke-width="1"/>
<polyline points="189.4,11.5 192.5,7.6 195.4,10.6 197.6,8.3 199,8.3" fill="none" stroke="#0000ff" stroke-width="1"/>
<path transform="translate(17.8,657.7) scale(1.19,0.99)" d="M1,0 H8 V10 H1 Z M1,5 H8" fill="none" stroke="#ff7000" stroke-width="1.5"/>
<path transform="translate(30.3,656.5) scale(1.03,1.03)" d="M3,-0.3 L0.6,3.2 L3.4,3 M3.6,1.6 L0.2,7 L4,6.2 M0.2,10.6 L4,9.4 M5,3 L10.6,2.2 M4.8,5.6 L11.4,4.6 M6.6,-0.3 C7.2,4.6 8.8,8.6 11.6,11 M10.8,6.8 C9.6,8.6 7.6,10 5,11 M9.4,-0.3 L10.4,0.7" fill="none" stroke="#ff7000" stroke-width="1.5"/>
<path d="M47.7,666.2 L51.85,657.8 L56,666.2 Z" fill="#ff7000"/>
<circle cx="11.8" cy="544" r="3.6" fill="none" stroke="#000" stroke-width="1"/><circle cx="11.8" cy="544" r="1.9" fill="#ff0000"/>
<path d="M17.20,544.00 L18.80,544.00 M15.62,547.82 L16.75,548.95 M11.80,549.40 L11.80,551.00 M7.98,547.82 L6.85,548.95 M6.40,544.00 L4.80,544.00 M7.98,540.18 L6.85,539.05 M11.80,538.60 L11.80,537.00 M15.62,540.18 L16.75,539.05" stroke="#ff0000" stroke-width="1.1"/>
<rect x="846.5" y="1.5" width="13" height="13" fill="#fff" stroke="#1976d2" stroke-width="1"/>
<path d="M852,7 h2 v2 h-2 z M848,7 h3 v2 h-3 z M855,7 h3 v2 h-3 z M852,3 h2 v3 h-2 z M852,10 h2 v3 h-2 z" fill="#1976d2"/>
<rect x="862.5" y="1.5" width="13" height="13" fill="#fff" stroke="#1976d2" stroke-width="1"/>
<path d="M865.5,4 V12.8 M864,11.5 H873.5" stroke="#1976d2" stroke-width="1"/><path d="M865.5,3 L864,5 H867 Z M874.5,11.5 L872.5,10 V13 Z M871.8,4.2 L869.2,6.6 L871.8,9 Z" fill="#1976d2"/><path d="M868.5,4.2 V9.8" stroke="#1976d2" stroke-width="1"/>
<rect x="878" y="1" width="14" height="14" fill="#1976d2"/>
<path d="M881.5,4 V12.8 M880,11.8 H889.5" stroke="#fff" stroke-width="1"/><path d="M881.5,3 L880,5 H883 Z M890.5,11.8 L888.5,10.3 V13.3 Z" fill="#fff"/><path d="M883.5,4.2 V10.4" stroke="#fff" stroke-width="1"/><path d="M884.3,4.2 L889,7.4 L884.3,10.4 Z" fill="#fff" opacity="0.75"/>
<rect x="894.5" y="1.5" width="13" height="13" fill="#fff" stroke="#1976d2" stroke-width="1"/>
<rect x="896.6" y="3.6" width="3.2" height="8.8" fill="none" stroke="#1976d2" stroke-width="1.1"/><path d="M898.2,7.8 H903" stroke="#1976d2" stroke-width="2"/><path d="M902.4,5.2 L905.6,7.8 L902.4,10.4 Z" fill="#1976d2"/>
<rect x="136" y="652" width="1" height="4" fill="#c8d0d8"/>
<text x="138" y="664" font-family="Liberation Sans, sans-serif" font-size="12" fill="#222" text-anchor="start" font-weight="bold" >2025/03</text>
<rect x="220.5" y="652" width="1" height="4" fill="#c8d0d8"/>
<text x="222.5" y="664" font-family="Liberation Sans, sans-serif" font-size="12" fill="#222" text-anchor="start" font-weight="bold" >2025/04</text>
<rect x="308.5" y="652" width="1" height="4" fill="#c8d0d8"/>
<text x="310.5" y="664" font-family="Liberation Sans, sans-serif" font-size="12" fill="#222" text-anchor="start" font-weight="bold" >2025/05</text>
<rect x="396" y="652" width="1" height="4" fill="#c8d0d8"/>
<text x="398" y="664" font-family="Liberation Sans, sans-serif" font-size="12" fill="#222" text-anchor="start" font-weight="bold" >2025/06</text>
<rect x="480.5" y="652" width="1" height="4" fill="#c8d0d8"/>
<text x="482.5" y="664" font-family="Liberation Sans, sans-serif" font-size="12" fill="#222" text-anchor="start" font-weight="bold" >2025/07</text>
<rect x="572.5" y="652" width="1" height="4" fill="#c8d0d8"/>
<text x="574.5" y="664" font-family="Liberation Sans, sans-serif" font-size="12" fill="#222" text-anchor="start" font-weight="bold" >2025/08</text>
<rect x="656" y="652" width="1" height="4" fill="#c8d0d8"/>
<text x="658" y="664" font-family="Liberation Sans, sans-serif" font-size="12" fill="#222" text-anchor="start" font-weight="bold" >2025/09</text>
<rect x="744" y="652" width="1" height="4" fill="#c8d0d8"/>
<text x="746" y="664" font-family="Liberation Sans, sans-serif" font-size="12" fill="#222" text-anchor="start" font-weight="bold" >2025/10</text>
<text x="850.8" y="645.3" font-family="Liberation Sans, sans-serif" font-size="30" fill="#b89c80" opacity="0.55" letter-spacing="2.5">FX678</text>
<text x="849.8" y="644.3" font-family="Liberation Sans, sans-serif" font-size="30" fill="#dbe7f6" opacity="0.9" letter-spacing="2.5">FX678</text>
</svg>
</body></html>
